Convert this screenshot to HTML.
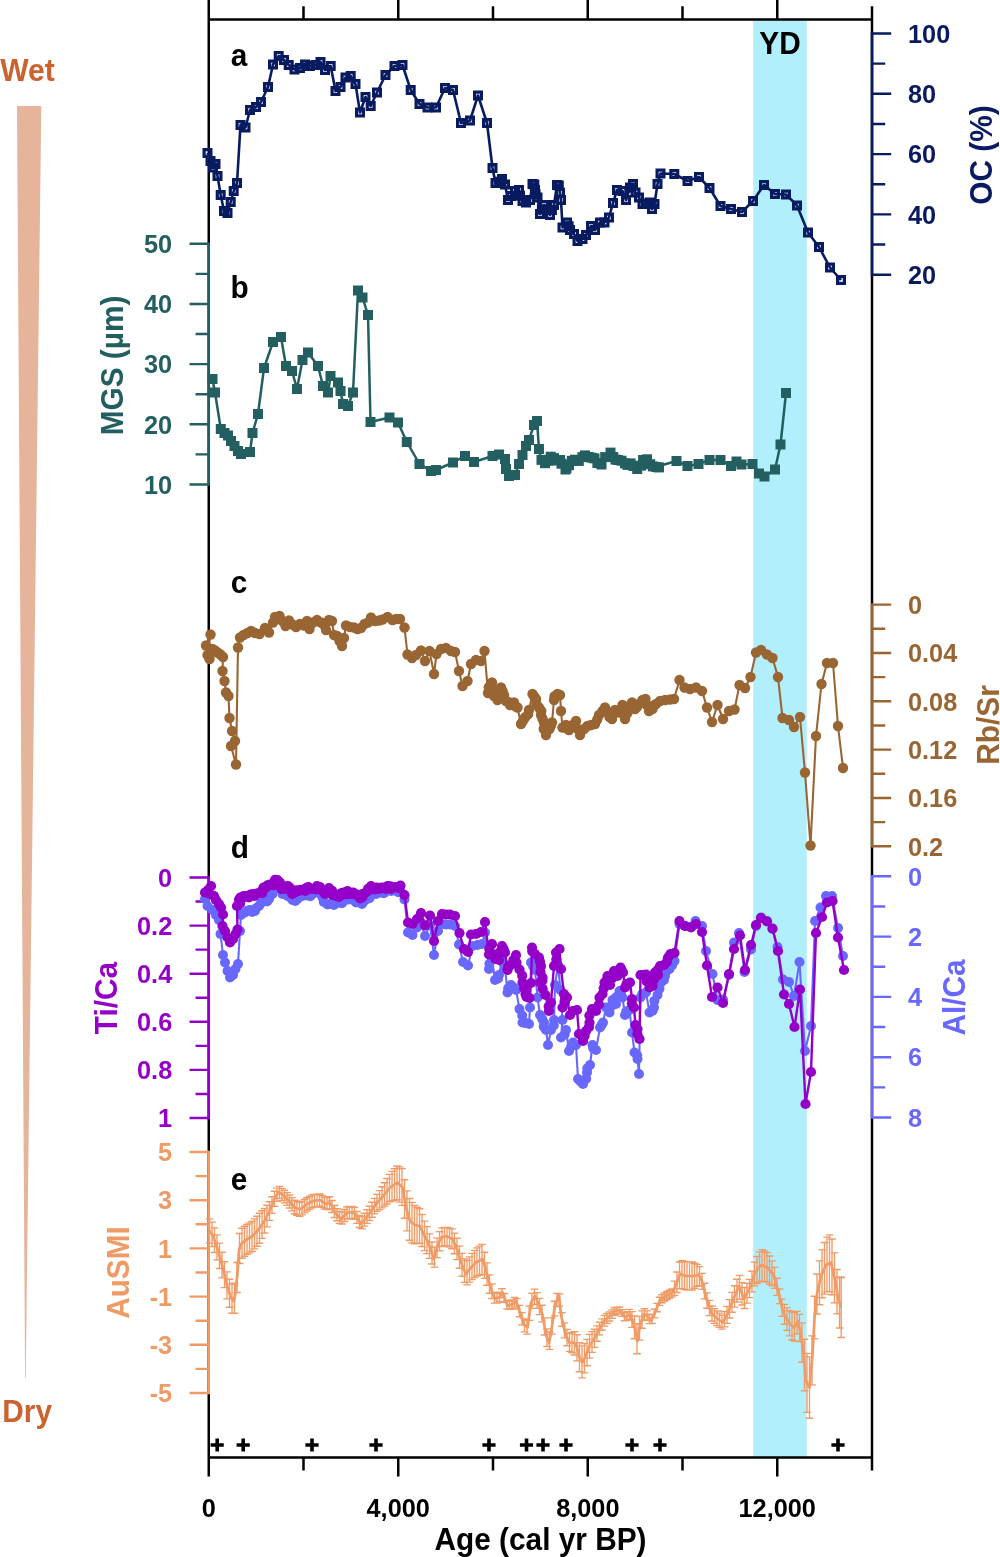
<!DOCTYPE html>
<html lang="en"><head><meta charset="utf-8"><title>Figure</title>
<style>html,body{margin:0;padding:0;background:#fff}body{width:1000px;height:1557px;overflow:hidden}svg{display:block}</style>
</head><body>
<svg width="1000" height="1557" viewBox="0 0 1000 1557" font-family='"Liberation Sans", Arial, Helvetica, sans-serif' font-weight="bold">
<rect x="0" y="0" width="1000" height="1557" fill="#ffffff"/>
<rect x="753.25" y="19.5" width="53.5" height="1438.0" fill="#b2effc"/>
<polygon points="17,106 41.3,106 25.7,1378 25.1,1378" fill="#e6b39b"/>
<text transform="translate(0.2,81.2) scale(1,1.05)" font-size="30.1" fill="#cb632f">Wet</text>
<text transform="translate(2.3,1422.2) scale(1,1.05)" font-size="29.8" fill="#cb632f">Dry</text>
<g stroke="#000" stroke-width="2.5" fill="none">
<path d="M208.75 0V1476.5M872.0 6.2V1470.5M207.5 19.5H873.25M207.5 1457.5H873.25"/>
<path d="M303.50 6.2V19.5M303.50 1457.5V1470.5"/>
<path d="M398.25 0V19.5M398.25 1457.5V1476.5"/>
<path d="M493.00 6.2V19.5M493.00 1457.5V1470.5"/>
<path d="M587.75 0V19.5M587.75 1457.5V1476.5"/>
<path d="M682.50 6.2V19.5M682.50 1457.5V1470.5"/>
<path d="M777.25 0V19.5M777.25 1457.5V1476.5"/>
</g>
<g stroke="#000" stroke-width="3.6"><path d="M210.6 1445H223.8M217.2 1438.4V1451.6"/><path d="M236.6 1445H249.8M243.2 1438.4V1451.6"/><path d="M305.4 1445H318.6M312.0 1438.4V1451.6"/><path d="M369.4 1445H382.6M376.0 1438.4V1451.6"/><path d="M482.4 1445H495.6M489.0 1438.4V1451.6"/><path d="M519.9 1445H533.1M526.5 1438.4V1451.6"/><path d="M536.4 1445H549.6M543.0 1438.4V1451.6"/><path d="M559.4 1445H572.6M566.0 1438.4V1451.6"/><path d="M625.4 1445H638.6M632.0 1438.4V1451.6"/><path d="M653.4 1445H666.6M660.0 1438.4V1451.6"/><path d="M831.4 1445H844.6M838.0 1438.4V1451.6"/></g>
<text transform="translate(208.8,1516.8) scale(1,1.05)" font-size="25.3" fill="#000" text-anchor="middle">0</text>
<text transform="translate(398.2,1516.8) scale(1,1.05)" font-size="25.3" fill="#000" text-anchor="middle">4,000</text>
<text transform="translate(587.8,1516.8) scale(1,1.05)" font-size="25.3" fill="#000" text-anchor="middle">8,000</text>
<text transform="translate(777.2,1516.8) scale(1,1.05)" font-size="25.3" fill="#000" text-anchor="middle">12,000</text>
<text transform="translate(540.5,1550) scale(1,1.05)" font-size="29.8" fill="#000" text-anchor="middle">Age (cal yr BP)</text>
<text transform="translate(230.7,66.4) scale(1,1.05)" font-size="29.8" fill="#000">a</text>
<text transform="translate(230.5,298.2) scale(1,1.05)" font-size="29.8" fill="#000">b</text>
<text transform="translate(230.8,592.5) scale(1,1.05)" font-size="29.8" fill="#000">c</text>
<text transform="translate(230.8,858.2) scale(1,1.05)" font-size="29.8" fill="#000">d</text>
<text transform="translate(230.8,1189.8) scale(1,1.05)" font-size="29.8" fill="#000">e</text>
<text transform="translate(780,53.6) scale(1,1.05)" font-size="29.8" fill="#000" text-anchor="middle">YD</text>
<g stroke="#081b60" stroke-width="2.4" fill="none">
<path d="M872.0 32.30V275.90" stroke-width="2.6"/>
<path d="M872.0 33.50h19.2M872.0 63.65h13.2M872.0 93.80h19.2M872.0 123.95h13.2M872.0 154.10h19.2M872.0 184.25h13.2M872.0 214.40h19.2M872.0 244.55h13.2M872.0 274.70h19.2"/></g>
<g fill="#081b60" font-size="25.3">
<text transform="translate(908,42.7) scale(1,1.05)" font-size="25.3" fill="#081b60">100</text>
<text transform="translate(908,103.0) scale(1,1.05)" font-size="25.3" fill="#081b60">80</text>
<text transform="translate(908,163.3) scale(1,1.05)" font-size="25.3" fill="#081b60">60</text>
<text transform="translate(908,223.6) scale(1,1.05)" font-size="25.3" fill="#081b60">40</text>
<text transform="translate(908,283.9) scale(1,1.05)" font-size="25.3" fill="#081b60">20</text>
</g>
<text transform="translate(992,155) rotate(-90) scale(1,1.05)" font-size="29.8" fill="#081b60" text-anchor="middle">OC (%)</text>
<g stroke="#235f60" stroke-width="2.4" fill="none">
<path d="M208.75 242.55V485.70" stroke-width="2.6"/>
<path d="M208.75 243.75h-19.2M208.75 273.84h-13.2M208.75 303.94h-19.2M208.75 334.03h-13.2M208.75 364.12h-19.2M208.75 394.22h-13.2M208.75 424.31h-19.2M208.75 454.41h-13.2M208.75 484.50h-19.2"/></g>
<g fill="#235f60" font-size="25.3">
<text transform="translate(172.2,252.9) scale(1,1.05)" font-size="25.3" fill="#235f60" text-anchor="end">50</text>
<text transform="translate(172.2,313.1) scale(1,1.05)" font-size="25.3" fill="#235f60" text-anchor="end">40</text>
<text transform="translate(172.2,373.3) scale(1,1.05)" font-size="25.3" fill="#235f60" text-anchor="end">30</text>
<text transform="translate(172.2,433.5) scale(1,1.05)" font-size="25.3" fill="#235f60" text-anchor="end">20</text>
<text transform="translate(172.2,493.7) scale(1,1.05)" font-size="25.3" fill="#235f60" text-anchor="end">10</text>
</g>
<text transform="translate(122.5,365.5) rotate(-90) scale(1,1.05)" font-size="29.8" fill="#235f60" text-anchor="middle">MGS (µm)</text>
<g stroke="#996633" stroke-width="2.4" fill="none">
<path d="M872.0 603.40V847.50" stroke-width="2.6"/>
<path d="M872.0 604.60h19.2M872.0 628.77h13.2M872.0 652.94h19.2M872.0 677.11h13.2M872.0 701.28h19.2M872.0 725.45h13.2M872.0 749.62h19.2M872.0 773.79h13.2M872.0 797.96h19.2M872.0 822.13h13.2M872.0 846.30h19.2"/></g>
<g fill="#996633" font-size="25.3">
<text transform="translate(908,613.8) scale(1,1.05)" font-size="25.3" fill="#996633">0</text>
<text transform="translate(908,662.1) scale(1,1.05)" font-size="25.3" fill="#996633">0.04</text>
<text transform="translate(908,710.5) scale(1,1.05)" font-size="25.3" fill="#996633">0.08</text>
<text transform="translate(908,758.8) scale(1,1.05)" font-size="25.3" fill="#996633">0.12</text>
<text transform="translate(908,807.2) scale(1,1.05)" font-size="25.3" fill="#996633">0.16</text>
<text transform="translate(908,855.5) scale(1,1.05)" font-size="25.3" fill="#996633">0.2</text>
</g>
<text transform="translate(999,725) rotate(-90) scale(1,1.05)" font-size="29.8" fill="#996633" text-anchor="middle">Rb/Sr</text>
<g stroke="#9400c8" stroke-width="2.4" fill="none">
<path d="M208.75 876.30V1119.20" stroke-width="2.6"/>
<path d="M208.75 877.50h-19.2M208.75 901.55h-13.2M208.75 925.60h-19.2M208.75 949.65h-13.2M208.75 973.70h-19.2M208.75 997.75h-13.2M208.75 1021.80h-19.2M208.75 1045.85h-13.2M208.75 1069.90h-19.2M208.75 1093.95h-13.2M208.75 1118.00h-19.2"/></g>
<g fill="#9400c8" font-size="25.3">
<text transform="translate(172.2,886.7) scale(1,1.05)" font-size="25.3" fill="#9400c8" text-anchor="end">0</text>
<text transform="translate(172.2,934.8) scale(1,1.05)" font-size="25.3" fill="#9400c8" text-anchor="end">0.2</text>
<text transform="translate(172.2,982.9) scale(1,1.05)" font-size="25.3" fill="#9400c8" text-anchor="end">0.4</text>
<text transform="translate(172.2,1031.0) scale(1,1.05)" font-size="25.3" fill="#9400c8" text-anchor="end">0.6</text>
<text transform="translate(172.2,1079.1) scale(1,1.05)" font-size="25.3" fill="#9400c8" text-anchor="end">0.8</text>
<text transform="translate(172.2,1127.2) scale(1,1.05)" font-size="25.3" fill="#9400c8" text-anchor="end">1</text>
</g>
<text transform="translate(117,998) rotate(-90) scale(1,1.05)" font-size="29.8" fill="#9400c8" text-anchor="middle">Ti/Ca</text>
<g stroke="#6868ff" stroke-width="2.4" fill="none">
<path d="M872.0 875.10V1118.70" stroke-width="2.6"/>
<path d="M872.0 876.30h19.2M872.0 906.45h13.2M872.0 936.60h19.2M872.0 966.75h13.2M872.0 996.90h19.2M872.0 1027.05h13.2M872.0 1057.20h19.2M872.0 1087.35h13.2M872.0 1117.50h19.2"/></g>
<g fill="#6868ff" font-size="25.3">
<text transform="translate(908,885.5) scale(1,1.05)" font-size="25.3" fill="#6868ff">0</text>
<text transform="translate(908,945.8) scale(1,1.05)" font-size="25.3" fill="#6868ff">2</text>
<text transform="translate(908,1006.1) scale(1,1.05)" font-size="25.3" fill="#6868ff">4</text>
<text transform="translate(908,1066.4) scale(1,1.05)" font-size="25.3" fill="#6868ff">6</text>
<text transform="translate(908,1126.7) scale(1,1.05)" font-size="25.3" fill="#6868ff">8</text>
</g>
<text transform="translate(965,997.5) rotate(-90) scale(1,1.05)" font-size="29.8" fill="#6868ff" text-anchor="middle">Al/Ca</text>
<g stroke="#f09a66" stroke-width="2.4" fill="none">
<path d="M208.75 1150.80V1394.20" stroke-width="2.6"/>
<path d="M208.75 1152.00h-19.2M208.75 1176.10h-13.2M208.75 1200.20h-19.2M208.75 1224.30h-13.2M208.75 1248.40h-19.2M208.75 1272.50h-13.2M208.75 1296.60h-19.2M208.75 1320.70h-13.2M208.75 1344.80h-19.2M208.75 1368.90h-13.2M208.75 1393.00h-19.2"/></g>
<g fill="#f09a66" font-size="25.3">
<text transform="translate(172.2,1161.2) scale(1,1.05)" font-size="25.3" fill="#f09a66" text-anchor="end">5</text>
<text transform="translate(172.2,1209.4) scale(1,1.05)" font-size="25.3" fill="#f09a66" text-anchor="end">3</text>
<text transform="translate(172.2,1257.6) scale(1,1.05)" font-size="25.3" fill="#f09a66" text-anchor="end">1</text>
<text transform="translate(172.2,1305.8) scale(1,1.05)" font-size="25.3" fill="#f09a66" text-anchor="end">-1</text>
<text transform="translate(172.2,1354.0) scale(1,1.05)" font-size="25.3" fill="#f09a66" text-anchor="end">-3</text>
<text transform="translate(172.2,1402.2) scale(1,1.05)" font-size="25.3" fill="#f09a66" text-anchor="end">-5</text>
</g>
<text transform="translate(128.5,1272.5) rotate(-90) scale(1,1.05)" font-size="29.8" fill="#f09a66" text-anchor="middle">AuSMI</text>
<g id="alca"><polyline points="205.0,899.0 207.5,906.0 212.5,910.0 216.0,915.0 219.0,920.0 220.5,934.0 223.0,955.0 225.0,962.5 227.5,971.0 230.0,977.5 233.0,975.0 235.5,969.0 238.0,964.0 240.0,931.0 241.0,915.0 245.0,912.5 250.0,910.0 255.0,911.0 259.0,906.0 264.0,901.0 269.0,899.0 272.5,894.0 277.5,886.0 282.5,894.0 287.5,896.0 292.5,900.0 297.5,899.0 302.5,896.0 307.5,895.5 312.5,894.0 317.5,891.0 322.5,897.5 327.5,904.5 334.0,905.0 339.0,902.5 344.0,901.0 349.0,899.5 354.0,900.0 359.0,902.0 362.0,904.0 366.0,899.5 371.0,895.0 376.0,894.0 381.0,892.5 386.0,891.0 391.0,891.0 396.0,890.5 400.5,891.0 404.5,899.5 408.0,932.5 412.5,935.0 417.0,927.5 421.0,922.5 425.0,936.0 430.0,925.0 434.0,955.0 438.0,931.0 442.0,924.0 446.0,924.5 450.0,924.5 455.0,926.0 459.0,944.5 463.0,962.0 468.0,965.5 472.5,946.0 477.5,945.0 482.0,944.0 485.0,932.5 489.0,969.0 492.0,959.0 495.0,980.0 499.0,975.0 502.0,960.0 505.0,967.5 507.5,992.5 511.0,985.0 516.0,990.0 519.5,1009.0 522.5,1022.5 529.0,1024.0 530.0,1007.5 531.0,962.5 535.0,970.0 537.5,997.5 540.0,1015.0 544.0,1022.5 546.0,1030.0 548.0,1045.0 551.0,1030.0 554.0,1020.0 555.0,985.0 558.0,965.0 560.5,990.0 562.5,1020.0 561.0,1037.5 566.0,1030.0 569.0,1051.0 573.0,1042.5 576.0,1045.0 578.0,1079.0 583.0,1084.0 587.0,1072.5 590.0,1065.0 592.5,1045.0 596.0,1050.0 600.0,1027.5 603.0,1022.5 606.0,1007.5 609.5,1012.5 612.5,1000.0 616.0,1004.0 619.5,991.0 622.5,997.5 625.0,1015.0 629.5,1010.0 632.0,1032.5 634.5,1052.5 637.5,1059.0 639.0,1074.0 640.5,997.5 646.0,992.5 649.5,1012.5 654.0,1007.5 657.5,995.0 661.0,982.5 665.0,976.0 669.5,969.0 674.5,961.0 679.5,924.0 685.0,926.0 691.0,927.0 695.5,921.0 702.0,926.0 706.0,951.0 712.5,974.0 717.5,1000.0 723.0,999.5 729.0,975.0 734.0,942.5 739.0,933.0 744.5,972.0 751.0,949.5 756.0,926.0 761.0,917.5 767.0,921.0 772.5,929.0 777.5,947.0 783.0,979.5 789.0,982.0 794.0,996.0 799.5,962.0 805.0,1051.0 811.0,1026.0 815.0,921.0 820.5,907.5 826.0,896.0 832.0,896.0 838.0,928.0 843.0,956.0" fill="none" stroke="#6868ff" stroke-width="2.1" stroke-linejoin="round"/>
<g fill="#6868ff"><circle cx="205.0" cy="899.0" r="5.0"/><circle cx="207.5" cy="906.0" r="5.0"/><circle cx="212.5" cy="910.0" r="5.0"/><circle cx="216.0" cy="915.0" r="5.0"/><circle cx="219.0" cy="920.0" r="5.0"/><circle cx="220.5" cy="934.0" r="5.0"/><circle cx="223.0" cy="955.0" r="5.0"/><circle cx="225.0" cy="962.5" r="5.0"/><circle cx="227.5" cy="971.0" r="5.0"/><circle cx="230.0" cy="977.5" r="5.0"/><circle cx="233.0" cy="975.0" r="5.0"/><circle cx="235.5" cy="969.0" r="5.0"/><circle cx="238.0" cy="964.0" r="5.0"/><circle cx="240.0" cy="931.0" r="5.0"/><circle cx="241.0" cy="915.0" r="5.0"/><circle cx="242.6" cy="913.0" r="5.0"/><circle cx="245.0" cy="912.5" r="5.0"/><circle cx="247.2" cy="910.7" r="5.0"/><circle cx="250.0" cy="910.0" r="5.0"/><circle cx="252.2" cy="912.0" r="5.0"/><circle cx="255.0" cy="911.0" r="5.0"/><circle cx="256.3" cy="908.0" r="5.0"/><circle cx="259.0" cy="906.0" r="5.0"/><circle cx="261.0" cy="903.0" r="5.0"/><circle cx="264.0" cy="901.0" r="5.0"/><circle cx="267.1" cy="901.4" r="5.0"/><circle cx="269.0" cy="899.0" r="5.0"/><circle cx="270.0" cy="896.0" r="5.0"/><circle cx="272.5" cy="894.0" r="5.0"/><circle cx="277.5" cy="886.0" r="5.0"/><circle cx="282.5" cy="894.0" r="5.0"/><circle cx="285.3" cy="894.2" r="5.0"/><circle cx="287.5" cy="896.0" r="5.0"/><circle cx="290.4" cy="897.5" r="5.0"/><circle cx="292.5" cy="900.0" r="5.0"/><circle cx="295.3" cy="901.0" r="5.0"/><circle cx="297.5" cy="899.0" r="5.0"/><circle cx="299.5" cy="896.7" r="5.0"/><circle cx="302.5" cy="896.0" r="5.0"/><circle cx="304.9" cy="895.2" r="5.0"/><circle cx="307.5" cy="895.5" r="5.0"/><circle cx="310.4" cy="896.2" r="5.0"/><circle cx="312.5" cy="894.0" r="5.0"/><circle cx="314.5" cy="891.7" r="5.0"/><circle cx="317.5" cy="891.0" r="5.0"/><circle cx="320.4" cy="893.9" r="5.0"/><circle cx="322.5" cy="897.5" r="5.0"/><circle cx="323.8" cy="901.9" r="5.0"/><circle cx="327.5" cy="904.5" r="5.0"/><circle cx="330.8" cy="903.8" r="5.0"/><circle cx="334.0" cy="905.0" r="5.0"/><circle cx="336.3" cy="903.3" r="5.0"/><circle cx="339.0" cy="902.5" r="5.0"/><circle cx="341.9" cy="903.2" r="5.0"/><circle cx="344.0" cy="901.0" r="5.0"/><circle cx="346.2" cy="899.3" r="5.0"/><circle cx="349.0" cy="899.5" r="5.0"/><circle cx="351.5" cy="899.3" r="5.0"/><circle cx="354.0" cy="900.0" r="5.0"/><circle cx="356.0" cy="902.4" r="5.0"/><circle cx="359.0" cy="902.0" r="5.0"/><circle cx="361.0" cy="902.2" r="5.0"/><circle cx="362.0" cy="904.0" r="5.0"/><circle cx="363.6" cy="901.4" r="5.0"/><circle cx="366.0" cy="899.5" r="5.0"/><circle cx="369.5" cy="898.3" r="5.0"/><circle cx="371.0" cy="895.0" r="5.0"/><circle cx="373.3" cy="893.5" r="5.0"/><circle cx="376.0" cy="894.0" r="5.0"/><circle cx="378.4" cy="892.8" r="5.0"/><circle cx="381.0" cy="892.5" r="5.0"/><circle cx="383.9" cy="893.2" r="5.0"/><circle cx="386.0" cy="891.0" r="5.0"/><circle cx="388.5" cy="890.0" r="5.0"/><circle cx="391.0" cy="891.0" r="5.0"/><circle cx="393.5" cy="890.3" r="5.0"/><circle cx="396.0" cy="890.5" r="5.0"/><circle cx="398.1" cy="892.2" r="5.0"/><circle cx="400.5" cy="891.0" r="5.0"/><circle cx="404.5" cy="899.5" r="5.0"/><circle cx="408.0" cy="932.5" r="5.0"/><circle cx="412.5" cy="935.0" r="5.0"/><circle cx="417.0" cy="927.5" r="5.0"/><circle cx="421.0" cy="922.5" r="5.0"/><circle cx="425.0" cy="936.0" r="5.0"/><circle cx="430.0" cy="925.0" r="5.0"/><circle cx="434.0" cy="955.0" r="5.0"/><circle cx="438.0" cy="931.0" r="5.0"/><circle cx="442.0" cy="924.0" r="5.0"/><circle cx="446.0" cy="924.5" r="5.0"/><circle cx="450.0" cy="924.5" r="5.0"/><circle cx="455.0" cy="926.0" r="5.0"/><circle cx="459.0" cy="944.5" r="5.0"/><circle cx="463.0" cy="962.0" r="5.0"/><circle cx="468.0" cy="965.5" r="5.0"/><circle cx="472.5" cy="946.0" r="5.0"/><circle cx="477.5" cy="945.0" r="5.0"/><circle cx="482.0" cy="944.0" r="5.0"/><circle cx="485.0" cy="932.5" r="5.0"/><circle cx="489.0" cy="969.0" r="5.0"/><circle cx="489.4" cy="963.7" r="5.0"/><circle cx="492.0" cy="959.0" r="5.0"/><circle cx="495.0" cy="980.0" r="5.0"/><circle cx="498.1" cy="978.4" r="5.0"/><circle cx="499.0" cy="975.0" r="5.0"/><circle cx="502.0" cy="960.0" r="5.0"/><circle cx="503.7" cy="963.7" r="5.0"/><circle cx="505.0" cy="967.5" r="5.0"/><circle cx="507.5" cy="992.5" r="5.0"/><circle cx="508.2" cy="988.2" r="5.0"/><circle cx="511.0" cy="985.0" r="5.0"/><circle cx="513.6" cy="987.4" r="5.0"/><circle cx="516.0" cy="990.0" r="5.0"/><circle cx="519.5" cy="1009.0" r="5.0"/><circle cx="522.2" cy="1015.5" r="5.0"/><circle cx="522.5" cy="1022.5" r="5.0"/><circle cx="525.8" cy="1023.1" r="5.0"/><circle cx="529.0" cy="1024.0" r="5.0"/><circle cx="530.0" cy="1007.5" r="5.0"/><circle cx="531.0" cy="962.5" r="5.0"/><circle cx="533.1" cy="966.2" r="5.0"/><circle cx="535.0" cy="970.0" r="5.0"/><circle cx="537.5" cy="997.5" r="5.0"/><circle cx="540.0" cy="1015.0" r="5.0"/><circle cx="542.1" cy="1018.7" r="5.0"/><circle cx="544.0" cy="1022.5" r="5.0"/><circle cx="543.7" cy="1026.6" r="5.0"/><circle cx="546.0" cy="1030.0" r="5.0"/><circle cx="548.0" cy="1045.0" r="5.0"/><circle cx="551.0" cy="1030.0" r="5.0"/><circle cx="553.8" cy="1025.4" r="5.0"/><circle cx="554.0" cy="1020.0" r="5.0"/><circle cx="555.0" cy="985.0" r="5.0"/><circle cx="558.0" cy="965.0" r="5.0"/><circle cx="560.5" cy="990.0" r="5.0"/><circle cx="562.5" cy="1020.0" r="5.0"/><circle cx="561.0" cy="1037.5" r="5.0"/><circle cx="564.6" cy="1034.5" r="5.0"/><circle cx="566.0" cy="1030.0" r="5.0"/><circle cx="569.0" cy="1051.0" r="5.0"/><circle cx="571.0" cy="1046.7" r="5.0"/><circle cx="573.0" cy="1042.5" r="5.0"/><circle cx="576.0" cy="1045.0" r="5.0"/><circle cx="578.0" cy="1079.0" r="5.0"/><circle cx="580.5" cy="1081.5" r="5.0"/><circle cx="583.0" cy="1084.0" r="5.0"/><circle cx="586.2" cy="1078.7" r="5.0"/><circle cx="587.0" cy="1072.5" r="5.0"/><circle cx="587.3" cy="1068.3" r="5.0"/><circle cx="590.0" cy="1065.0" r="5.0"/><circle cx="592.5" cy="1045.0" r="5.0"/><circle cx="593.2" cy="1048.2" r="5.0"/><circle cx="596.0" cy="1050.0" r="5.0"/><circle cx="600.0" cy="1027.5" r="5.0"/><circle cx="601.6" cy="1025.0" r="5.0"/><circle cx="603.0" cy="1022.5" r="5.0"/><circle cx="606.0" cy="1007.5" r="5.0"/><circle cx="608.8" cy="1009.2" r="5.0"/><circle cx="609.5" cy="1012.5" r="5.0"/><circle cx="611.1" cy="1006.3" r="5.0"/><circle cx="612.5" cy="1000.0" r="5.0"/><circle cx="616.0" cy="1004.0" r="5.0"/><circle cx="616.4" cy="997.1" r="5.0"/><circle cx="619.5" cy="991.0" r="5.0"/><circle cx="620.9" cy="994.3" r="5.0"/><circle cx="622.5" cy="997.5" r="5.0"/><circle cx="625.0" cy="1015.0" r="5.0"/><circle cx="626.2" cy="1011.6" r="5.0"/><circle cx="629.5" cy="1010.0" r="5.0"/><circle cx="632.0" cy="1032.5" r="5.0"/><circle cx="634.5" cy="1052.5" r="5.0"/><circle cx="637.2" cy="1055.2" r="5.0"/><circle cx="637.5" cy="1059.0" r="5.0"/><circle cx="639.0" cy="1074.0" r="5.0"/><circle cx="640.5" cy="997.5" r="5.0"/><circle cx="642.3" cy="994.0" r="5.0"/><circle cx="646.0" cy="992.5" r="5.0"/><circle cx="649.5" cy="1012.5" r="5.0"/><circle cx="652.6" cy="1010.8" r="5.0"/><circle cx="654.0" cy="1007.5" r="5.0"/><circle cx="654.4" cy="1000.9" r="5.0"/><circle cx="657.5" cy="995.0" r="5.0"/><circle cx="659.5" cy="988.8" r="5.0"/><circle cx="661.0" cy="982.5" r="5.0"/><circle cx="664.0" cy="979.9" r="5.0"/><circle cx="665.0" cy="976.0" r="5.0"/><circle cx="666.1" cy="971.7" r="5.0"/><circle cx="669.5" cy="969.0" r="5.0"/><circle cx="672.2" cy="965.1" r="5.0"/><circle cx="674.5" cy="961.0" r="5.0"/><circle cx="679.5" cy="924.0" r="5.0"/><circle cx="685.0" cy="926.0" r="5.0"/><circle cx="691.0" cy="927.0" r="5.0"/><circle cx="695.5" cy="921.0" r="5.0"/><circle cx="702.0" cy="926.0" r="5.0"/><circle cx="706.0" cy="951.0" r="5.0"/><circle cx="712.5" cy="974.0" r="5.0"/><circle cx="717.5" cy="1000.0" r="5.0"/><circle cx="723.0" cy="999.5" r="5.0"/><circle cx="729.0" cy="975.0" r="5.0"/><circle cx="734.0" cy="942.5" r="5.0"/><circle cx="739.0" cy="933.0" r="5.0"/><circle cx="744.5" cy="972.0" r="5.0"/><circle cx="751.0" cy="949.5" r="5.0"/><circle cx="756.0" cy="926.0" r="5.0"/><circle cx="761.0" cy="917.5" r="5.0"/><circle cx="767.0" cy="921.0" r="5.0"/><circle cx="772.5" cy="929.0" r="5.0"/><circle cx="777.5" cy="947.0" r="5.0"/><circle cx="783.0" cy="979.5" r="5.0"/><circle cx="789.0" cy="982.0" r="5.0"/><circle cx="794.0" cy="996.0" r="5.0"/><circle cx="799.5" cy="962.0" r="5.0"/><circle cx="805.0" cy="1051.0" r="5.0"/><circle cx="811.0" cy="1026.0" r="5.0"/><circle cx="815.0" cy="921.0" r="5.0"/><circle cx="820.5" cy="907.5" r="5.0"/><circle cx="826.0" cy="896.0" r="5.0"/><circle cx="832.0" cy="896.0" r="5.0"/><circle cx="838.0" cy="928.0" r="5.0"/><circle cx="843.0" cy="956.0" r="5.0"/></g></g>
<g id="tica"><polyline points="205.0,892.5 208.0,890.0 211.0,886.0 210.0,894.0 214.0,896.0 216.0,900.0 219.0,904.0 221.0,907.5 223.0,914.5 222.5,926.0 225.0,931.0 227.5,937.5 230.0,942.5 233.0,939.0 235.5,934.0 237.5,929.5 237.0,906.0 239.0,899.5 242.5,898.0 246.0,896.0 250.5,894.5 254.5,896.0 259.0,893.0 262.5,890.0 266.0,887.5 270.0,884.5 274.0,882.0 277.5,880.0 281.0,886.0 284.5,889.0 288.0,886.0 291.0,891.0 295.0,892.5 299.0,891.0 302.5,890.0 306.0,888.0 310.0,889.0 312.5,889.0 317.0,886.0 321.0,890.0 325.0,894.0 329.0,888.0 332.5,895.0 336.0,896.0 340.0,894.0 344.0,894.5 347.5,891.0 351.0,894.0 355.0,894.5 359.0,896.0 362.5,897.0 366.0,892.5 371.0,886.0 375.0,889.5 379.0,889.0 382.5,887.5 387.5,886.0 391.0,889.0 396.0,887.0 400.5,885.5 404.5,895.0 408.0,922.5 412.5,924.0 417.0,919.0 421.0,913.0 425.0,925.5 430.0,915.5 434.0,941.0 438.0,921.0 442.0,914.0 446.0,914.5 450.0,914.5 455.0,916.0 459.5,933.0 464.0,949.0 468.0,952.0 471.0,934.5 476.0,934.0 481.0,932.0 485.0,922.0 489.0,954.5 492.0,944.0 495.5,959.0 499.0,960.0 502.0,946.0 505.0,952.5 507.5,970.0 511.0,965.0 516.0,955.0 519.5,969.5 522.5,982.5 525.5,994.0 529.5,998.0 531.0,983.0 532.0,947.5 535.0,954.0 539.0,957.5 541.0,966.0 542.5,977.5 540.0,982.5 545.5,995.0 549.0,1011.0 551.0,1002.5 554.0,966.0 556.0,952.5 559.5,949.0 561.0,969.0 564.0,994.0 562.5,1007.5 567.0,997.5 570.0,1015.0 573.0,1011.0 577.0,1010.0 579.0,1034.0 583.0,1041.0 586.0,1031.0 589.5,1022.5 592.0,1009.0 596.0,1011.0 599.5,997.5 602.5,994.0 604.5,982.5 607.5,976.0 610.0,985.0 614.0,971.0 617.5,976.0 620.5,967.5 623.0,972.5 625.0,987.5 630.0,982.5 632.0,999.0 634.0,1007.5 635.5,1025.0 637.5,1029.0 639.5,1039.0 640.5,975.0 646.0,974.5 649.5,987.5 652.5,986.0 655.0,972.5 658.0,975.0 660.0,966.0 664.0,965.0 668.0,957.5 674.5,953.0 679.5,921.0 685.0,926.0 691.0,927.5 696.0,924.0 702.0,932.0 707.0,965.5 712.0,997.0 717.5,987.5 723.0,1003.0 729.0,974.0 734.0,949.0 740.0,935.5 745.0,970.0 751.0,945.0 756.0,925.0 761.0,918.0 767.0,921.5 772.5,928.5 778.0,951.0 784.0,994.5 789.0,1004.0 794.5,1027.0 800.0,989.5 805.5,1104.0 811.0,1072.0 816.0,933.0 822.0,917.0 827.0,902.5 832.5,901.0 838.0,937.5 844.0,970.0" fill="none" stroke="#9400c8" stroke-width="2.4" stroke-linejoin="round"/>
<g fill="#9400c8"><circle cx="205.0" cy="892.5" r="5.1"/><circle cx="208.0" cy="890.0" r="5.1"/><circle cx="211.0" cy="886.0" r="5.1"/><circle cx="210.0" cy="894.0" r="5.1"/><circle cx="214.0" cy="896.0" r="5.1"/><circle cx="216.0" cy="900.0" r="5.1"/><circle cx="219.0" cy="904.0" r="5.1"/><circle cx="221.0" cy="907.5" r="5.1"/><circle cx="223.0" cy="914.5" r="5.1"/><circle cx="222.5" cy="926.0" r="5.1"/><circle cx="225.0" cy="931.0" r="5.1"/><circle cx="227.5" cy="937.5" r="5.1"/><circle cx="230.0" cy="942.5" r="5.1"/><circle cx="233.0" cy="939.0" r="5.1"/><circle cx="235.5" cy="934.0" r="5.1"/><circle cx="237.5" cy="929.5" r="5.1"/><circle cx="237.0" cy="906.0" r="5.1"/><circle cx="240.1" cy="903.4" r="5.1"/><circle cx="239.0" cy="899.5" r="5.1"/><circle cx="240.3" cy="897.6" r="5.1"/><circle cx="242.5" cy="898.0" r="5.1"/><circle cx="243.8" cy="896.2" r="5.1"/><circle cx="246.0" cy="896.0" r="5.1"/><circle cx="248.9" cy="897.3" r="5.1"/><circle cx="250.5" cy="894.5" r="5.1"/><circle cx="252.9" cy="894.1" r="5.1"/><circle cx="254.5" cy="896.0" r="5.1"/><circle cx="256.2" cy="893.7" r="5.1"/><circle cx="259.0" cy="893.0" r="5.1"/><circle cx="262.2" cy="893.2" r="5.1"/><circle cx="262.5" cy="890.0" r="5.1"/><circle cx="263.5" cy="887.7" r="5.1"/><circle cx="266.0" cy="887.5" r="5.1"/><circle cx="267.5" cy="885.3" r="5.1"/><circle cx="270.0" cy="884.5" r="5.1"/><circle cx="273.2" cy="885.1" r="5.1"/><circle cx="274.0" cy="882.0" r="5.1"/><circle cx="275.1" cy="879.8" r="5.1"/><circle cx="277.5" cy="880.0" r="5.1"/><circle cx="280.0" cy="882.6" r="5.1"/><circle cx="281.0" cy="886.0" r="5.1"/><circle cx="281.3" cy="889.2" r="5.1"/><circle cx="284.5" cy="889.0" r="5.1"/><circle cx="285.4" cy="886.5" r="5.1"/><circle cx="288.0" cy="886.0" r="5.1"/><circle cx="290.2" cy="888.1" r="5.1"/><circle cx="291.0" cy="891.0" r="5.1"/><circle cx="292.2" cy="893.8" r="5.1"/><circle cx="295.0" cy="892.5" r="5.1"/><circle cx="296.5" cy="890.4" r="5.1"/><circle cx="299.0" cy="891.0" r="5.1"/><circle cx="300.5" cy="889.8" r="5.1"/><circle cx="302.5" cy="890.0" r="5.1"/><circle cx="305.3" cy="890.9" r="5.1"/><circle cx="306.0" cy="888.0" r="5.1"/><circle cx="308.3" cy="887.1" r="5.1"/><circle cx="310.0" cy="889.0" r="5.1"/><circle cx="312.5" cy="889.0" r="5.1"/><circle cx="315.9" cy="889.3" r="5.1"/><circle cx="317.0" cy="886.0" r="5.1"/><circle cx="320.0" cy="887.0" r="5.1"/><circle cx="321.0" cy="890.0" r="5.1"/><circle cx="323.5" cy="891.5" r="5.1"/><circle cx="325.0" cy="894.0" r="5.1"/><circle cx="328.8" cy="892.2" r="5.1"/><circle cx="329.0" cy="888.0" r="5.1"/><circle cx="332.1" cy="890.8" r="5.1"/><circle cx="332.5" cy="895.0" r="5.1"/><circle cx="334.4" cy="894.9" r="5.1"/><circle cx="336.0" cy="896.0" r="5.1"/><circle cx="339.0" cy="896.9" r="5.1"/><circle cx="340.0" cy="894.0" r="5.1"/><circle cx="342.2" cy="892.8" r="5.1"/><circle cx="344.0" cy="894.5" r="5.1"/><circle cx="345.3" cy="892.3" r="5.1"/><circle cx="347.5" cy="891.0" r="5.1"/><circle cx="347.9" cy="894.1" r="5.1"/><circle cx="351.0" cy="894.0" r="5.1"/><circle cx="353.2" cy="892.7" r="5.1"/><circle cx="355.0" cy="894.5" r="5.1"/><circle cx="357.2" cy="894.7" r="5.1"/><circle cx="359.0" cy="896.0" r="5.1"/><circle cx="360.2" cy="898.5" r="5.1"/><circle cx="362.5" cy="897.0" r="5.1"/><circle cx="363.0" cy="893.8" r="5.1"/><circle cx="366.0" cy="892.5" r="5.1"/><circle cx="368.1" cy="888.9" r="5.1"/><circle cx="371.0" cy="886.0" r="5.1"/><circle cx="371.6" cy="889.3" r="5.1"/><circle cx="375.0" cy="889.5" r="5.1"/><circle cx="376.8" cy="887.7" r="5.1"/><circle cx="379.0" cy="889.0" r="5.1"/><circle cx="380.5" cy="887.8" r="5.1"/><circle cx="382.5" cy="887.5" r="5.1"/><circle cx="385.6" cy="888.8" r="5.1"/><circle cx="387.5" cy="886.0" r="5.1"/><circle cx="390.3" cy="886.3" r="5.1"/><circle cx="391.0" cy="889.0" r="5.1"/><circle cx="393.3" cy="887.6" r="5.1"/><circle cx="396.0" cy="887.0" r="5.1"/><circle cx="398.9" cy="888.2" r="5.1"/><circle cx="400.5" cy="885.5" r="5.1"/><circle cx="404.5" cy="895.0" r="5.1"/><circle cx="408.0" cy="922.5" r="5.1"/><circle cx="412.5" cy="924.0" r="5.1"/><circle cx="417.0" cy="919.0" r="5.1"/><circle cx="421.0" cy="913.0" r="5.1"/><circle cx="425.0" cy="925.5" r="5.1"/><circle cx="430.0" cy="915.5" r="5.1"/><circle cx="434.0" cy="941.0" r="5.1"/><circle cx="438.0" cy="921.0" r="5.1"/><circle cx="442.0" cy="914.0" r="5.1"/><circle cx="446.0" cy="914.5" r="5.1"/><circle cx="450.0" cy="914.5" r="5.1"/><circle cx="455.0" cy="916.0" r="5.1"/><circle cx="459.5" cy="933.0" r="5.1"/><circle cx="464.0" cy="949.0" r="5.1"/><circle cx="468.0" cy="952.0" r="5.1"/><circle cx="471.0" cy="934.5" r="5.1"/><circle cx="476.0" cy="934.0" r="5.1"/><circle cx="481.0" cy="932.0" r="5.1"/><circle cx="485.0" cy="922.0" r="5.1"/><circle cx="489.0" cy="954.5" r="5.1"/><circle cx="489.3" cy="948.9" r="5.1"/><circle cx="492.0" cy="944.0" r="5.1"/><circle cx="495.5" cy="959.0" r="5.1"/><circle cx="499.0" cy="960.0" r="5.1"/><circle cx="499.3" cy="952.7" r="5.1"/><circle cx="502.0" cy="946.0" r="5.1"/><circle cx="503.6" cy="949.2" r="5.1"/><circle cx="505.0" cy="952.5" r="5.1"/><circle cx="507.5" cy="970.0" r="5.1"/><circle cx="508.2" cy="966.8" r="5.1"/><circle cx="511.0" cy="965.0" r="5.1"/><circle cx="513.4" cy="960.0" r="5.1"/><circle cx="516.0" cy="955.0" r="5.1"/><circle cx="516.5" cy="962.6" r="5.1"/><circle cx="519.5" cy="969.5" r="5.1"/><circle cx="522.2" cy="975.7" r="5.1"/><circle cx="522.5" cy="982.5" r="5.1"/><circle cx="524.1" cy="988.2" r="5.1"/><circle cx="525.5" cy="994.0" r="5.1"/><circle cx="526.6" cy="996.9" r="5.1"/><circle cx="529.5" cy="998.0" r="5.1"/><circle cx="531.0" cy="983.0" r="5.1"/><circle cx="532.0" cy="947.5" r="5.1"/><circle cx="532.3" cy="951.3" r="5.1"/><circle cx="535.0" cy="954.0" r="5.1"/><circle cx="539.0" cy="957.5" r="5.1"/><circle cx="540.0" cy="961.7" r="5.1"/><circle cx="541.0" cy="966.0" r="5.1"/><circle cx="540.5" cy="971.9" r="5.1"/><circle cx="542.5" cy="977.5" r="5.1"/><circle cx="542.4" cy="980.6" r="5.1"/><circle cx="540.0" cy="982.5" r="5.1"/><circle cx="542.7" cy="988.8" r="5.1"/><circle cx="545.5" cy="995.0" r="5.1"/><circle cx="549.0" cy="1011.0" r="5.1"/><circle cx="548.7" cy="1006.4" r="5.1"/><circle cx="551.0" cy="1002.5" r="5.1"/><circle cx="554.0" cy="966.0" r="5.1"/><circle cx="556.3" cy="959.4" r="5.1"/><circle cx="556.0" cy="952.5" r="5.1"/><circle cx="559.5" cy="949.0" r="5.1"/><circle cx="561.0" cy="969.0" r="5.1"/><circle cx="564.0" cy="994.0" r="5.1"/><circle cx="564.6" cy="1000.9" r="5.1"/><circle cx="562.5" cy="1007.5" r="5.1"/><circle cx="564.8" cy="1002.5" r="5.1"/><circle cx="567.0" cy="997.5" r="5.1"/><circle cx="570.0" cy="1015.0" r="5.1"/><circle cx="573.0" cy="1011.0" r="5.1"/><circle cx="577.0" cy="1010.0" r="5.1"/><circle cx="579.0" cy="1034.0" r="5.1"/><circle cx="582.2" cy="1036.8" r="5.1"/><circle cx="583.0" cy="1041.0" r="5.1"/><circle cx="584.6" cy="1036.0" r="5.1"/><circle cx="586.0" cy="1031.0" r="5.1"/><circle cx="588.9" cy="1027.2" r="5.1"/><circle cx="589.5" cy="1022.5" r="5.1"/><circle cx="589.4" cy="1015.5" r="5.1"/><circle cx="592.0" cy="1009.0" r="5.1"/><circle cx="596.0" cy="1011.0" r="5.1"/><circle cx="598.9" cy="1004.6" r="5.1"/><circle cx="599.5" cy="997.5" r="5.1"/><circle cx="602.5" cy="994.0" r="5.1"/><circle cx="603.7" cy="988.3" r="5.1"/><circle cx="604.5" cy="982.5" r="5.1"/><circle cx="607.1" cy="979.7" r="5.1"/><circle cx="607.5" cy="976.0" r="5.1"/><circle cx="610.1" cy="980.1" r="5.1"/><circle cx="610.0" cy="985.0" r="5.1"/><circle cx="612.2" cy="978.1" r="5.1"/><circle cx="614.0" cy="971.0" r="5.1"/><circle cx="614.8" cy="974.2" r="5.1"/><circle cx="617.5" cy="976.0" r="5.1"/><circle cx="617.7" cy="971.3" r="5.1"/><circle cx="620.5" cy="967.5" r="5.1"/><circle cx="621.5" cy="970.1" r="5.1"/><circle cx="623.0" cy="972.5" r="5.1"/><circle cx="625.0" cy="987.5" r="5.1"/><circle cx="626.5" cy="984.0" r="5.1"/><circle cx="630.0" cy="982.5" r="5.1"/><circle cx="632.0" cy="999.0" r="5.1"/><circle cx="631.9" cy="1003.5" r="5.1"/><circle cx="634.0" cy="1007.5" r="5.1"/><circle cx="635.5" cy="1025.0" r="5.1"/><circle cx="637.5" cy="1029.0" r="5.1"/><circle cx="637.4" cy="1034.2" r="5.1"/><circle cx="639.5" cy="1039.0" r="5.1"/><circle cx="640.5" cy="975.0" r="5.1"/><circle cx="643.3" cy="975.1" r="5.1"/><circle cx="646.0" cy="974.5" r="5.1"/><circle cx="646.7" cy="981.3" r="5.1"/><circle cx="649.5" cy="987.5" r="5.1"/><circle cx="652.5" cy="986.0" r="5.1"/><circle cx="654.1" cy="979.3" r="5.1"/><circle cx="655.0" cy="972.5" r="5.1"/><circle cx="658.0" cy="975.0" r="5.1"/><circle cx="657.6" cy="970.2" r="5.1"/><circle cx="660.0" cy="966.0" r="5.1"/><circle cx="664.0" cy="965.0" r="5.1"/><circle cx="666.9" cy="961.8" r="5.1"/><circle cx="668.0" cy="957.5" r="5.1"/><circle cx="670.4" cy="954.1" r="5.1"/><circle cx="674.5" cy="953.0" r="5.1"/><circle cx="679.5" cy="921.0" r="5.1"/><circle cx="685.0" cy="926.0" r="5.1"/><circle cx="691.0" cy="927.5" r="5.1"/><circle cx="696.0" cy="924.0" r="5.1"/><circle cx="702.0" cy="932.0" r="5.1"/><circle cx="707.0" cy="965.5" r="5.1"/><circle cx="712.0" cy="997.0" r="5.1"/><circle cx="717.5" cy="987.5" r="5.1"/><circle cx="723.0" cy="1003.0" r="5.1"/><circle cx="729.0" cy="974.0" r="5.1"/><circle cx="734.0" cy="949.0" r="5.1"/><circle cx="740.0" cy="935.5" r="5.1"/><circle cx="745.0" cy="970.0" r="5.1"/><circle cx="751.0" cy="945.0" r="5.1"/><circle cx="756.0" cy="925.0" r="5.1"/><circle cx="761.0" cy="918.0" r="5.1"/><circle cx="767.0" cy="921.5" r="5.1"/><circle cx="772.5" cy="928.5" r="5.1"/><circle cx="778.0" cy="951.0" r="5.1"/><circle cx="784.0" cy="994.5" r="5.1"/><circle cx="789.0" cy="1004.0" r="5.1"/><circle cx="794.5" cy="1027.0" r="5.1"/><circle cx="800.0" cy="989.5" r="5.1"/><circle cx="805.5" cy="1104.0" r="5.1"/><circle cx="811.0" cy="1072.0" r="5.1"/><circle cx="816.0" cy="933.0" r="5.1"/><circle cx="822.0" cy="917.0" r="5.1"/><circle cx="827.0" cy="902.5" r="5.1"/><circle cx="832.5" cy="901.0" r="5.1"/><circle cx="838.0" cy="937.5" r="5.1"/><circle cx="844.0" cy="970.0" r="5.1"/></g></g>
<g id="rbsr"><polyline points="206.0,645.5 210.5,634.5 207.5,655.0 209.5,659.0 212.5,649.0 215.0,650.5 217.5,652.5 220.5,654.5 223.0,657.0 222.5,671.0 224.5,681.0 226.0,692.5 228.5,696.0 229.5,718.0 232.0,731.0 235.0,741.0 231.0,746.0 236.0,764.5 238.0,647.5 240.0,637.5 243.5,635.0 247.5,633.0 251.0,631.0 255.0,633.0 259.5,634.0 265.0,628.0 269.0,632.5 273.0,622.5 275.0,617.0 279.5,616.0 282.5,621.0 285.5,626.0 289.0,620.5 292.5,624.5 296.0,627.0 300.0,624.0 304.0,625.5 307.0,621.0 309.5,629.0 313.0,622.5 317.0,620.0 321.0,622.5 324.5,625.5 326.0,630.0 329.0,620.0 332.0,621.0 334.0,635.0 337.0,636.0 339.5,641.0 342.0,646.0 344.0,638.0 346.0,625.5 350.0,627.0 354.0,627.5 357.5,629.0 361.0,628.0 364.5,624.0 368.0,622.5 371.0,617.5 375.0,621.0 379.0,620.5 382.5,619.5 387.5,617.0 392.5,620.0 396.0,619.0 400.0,619.0 404.5,627.5 407.5,654.5 412.0,658.0 416.0,655.0 421.0,650.5 425.0,661.0 429.5,651.0 434.0,674.0 436.5,654.0 441.0,649.0 446.0,648.0 451.0,651.0 455.0,652.0 459.0,671.0 462.5,686.0 467.5,681.0 471.0,664.0 476.0,660.0 481.0,661.0 484.5,651.0 488.0,693.0 492.0,682.5 494.0,696.0 497.5,700.0 501.0,687.5 504.0,695.0 506.0,701.0 510.0,705.0 514.0,702.5 517.5,707.5 521.0,724.0 525.0,717.5 529.0,710.0 532.5,694.0 536.0,699.0 539.0,707.5 541.0,715.0 544.0,722.5 546.0,735.0 549.5,729.0 552.0,722.5 554.0,700.0 557.5,694.0 560.0,695.0 561.0,711.0 562.5,727.5 566.0,725.0 569.0,730.0 572.5,725.0 576.0,721.0 580.0,735.0 584.0,729.0 587.5,726.0 591.0,725.0 595.0,724.0 599.0,715.0 602.5,711.0 605.0,707.5 609.0,714.0 612.0,719.0 615.0,710.0 619.0,712.5 622.5,705.0 625.0,719.0 629.0,707.5 632.0,702.5 635.0,709.0 639.0,704.0 642.5,700.0 645.5,699.0 649.0,711.0 652.5,709.0 656.0,704.0 660.0,701.0 665.0,700.0 670.0,699.5 674.0,699.0 679.5,680.0 684.5,687.5 690.0,689.0 696.0,687.5 702.0,691.0 707.0,707.5 712.0,722.0 717.5,705.0 723.0,719.0 729.0,711.0 734.5,709.5 739.5,685.0 745.0,688.0 750.5,677.0 756.0,652.5 761.0,650.0 767.0,654.5 772.5,658.0 778.0,677.0 782.5,718.0 789.0,720.0 794.0,727.0 800.0,717.0 805.0,772.5 810.5,845.5 816.0,736.0 821.5,684.0 827.0,663.0 833.0,663.0 838.0,726.0 843.0,768.0" fill="none" stroke="#996633" stroke-width="2.1" stroke-linejoin="round"/>
<g fill="#996633"><circle cx="206.0" cy="645.5" r="5.2"/><circle cx="210.5" cy="634.5" r="5.2"/><circle cx="207.5" cy="655.0" r="5.2"/><circle cx="209.5" cy="659.0" r="5.2"/><circle cx="212.5" cy="649.0" r="5.2"/><circle cx="215.0" cy="650.5" r="5.2"/><circle cx="217.5" cy="652.5" r="5.2"/><circle cx="220.5" cy="654.5" r="5.2"/><circle cx="223.0" cy="657.0" r="5.2"/><circle cx="222.5" cy="671.0" r="5.2"/><circle cx="224.5" cy="681.0" r="5.2"/><circle cx="226.0" cy="692.5" r="5.2"/><circle cx="228.5" cy="696.0" r="5.2"/><circle cx="229.5" cy="718.0" r="5.2"/><circle cx="232.0" cy="731.0" r="5.2"/><circle cx="235.0" cy="741.0" r="5.2"/><circle cx="231.0" cy="746.0" r="5.2"/><circle cx="236.0" cy="764.5" r="5.2"/><circle cx="238.0" cy="647.5" r="5.2"/><circle cx="240.0" cy="637.5" r="5.2"/><circle cx="243.5" cy="635.0" r="5.2"/><circle cx="247.5" cy="633.0" r="5.2"/><circle cx="251.0" cy="631.0" r="5.2"/><circle cx="255.0" cy="633.0" r="5.2"/><circle cx="259.5" cy="634.0" r="5.2"/><circle cx="265.0" cy="628.0" r="5.2"/><circle cx="269.0" cy="632.5" r="5.2"/><circle cx="273.0" cy="622.5" r="5.2"/><circle cx="275.0" cy="617.0" r="5.2"/><circle cx="279.5" cy="616.0" r="5.2"/><circle cx="282.5" cy="621.0" r="5.2"/><circle cx="285.5" cy="626.0" r="5.2"/><circle cx="289.0" cy="620.5" r="5.2"/><circle cx="292.5" cy="624.5" r="5.2"/><circle cx="296.0" cy="627.0" r="5.2"/><circle cx="300.0" cy="624.0" r="5.2"/><circle cx="304.0" cy="625.5" r="5.2"/><circle cx="307.0" cy="621.0" r="5.2"/><circle cx="309.5" cy="629.0" r="5.2"/><circle cx="313.0" cy="622.5" r="5.2"/><circle cx="317.0" cy="620.0" r="5.2"/><circle cx="321.0" cy="622.5" r="5.2"/><circle cx="324.5" cy="625.5" r="5.2"/><circle cx="326.0" cy="630.0" r="5.2"/><circle cx="329.0" cy="620.0" r="5.2"/><circle cx="332.0" cy="621.0" r="5.2"/><circle cx="334.0" cy="635.0" r="5.2"/><circle cx="337.0" cy="636.0" r="5.2"/><circle cx="339.5" cy="641.0" r="5.2"/><circle cx="342.0" cy="646.0" r="5.2"/><circle cx="344.0" cy="638.0" r="5.2"/><circle cx="346.0" cy="625.5" r="5.2"/><circle cx="350.0" cy="627.0" r="5.2"/><circle cx="354.0" cy="627.5" r="5.2"/><circle cx="357.5" cy="629.0" r="5.2"/><circle cx="361.0" cy="628.0" r="5.2"/><circle cx="364.5" cy="624.0" r="5.2"/><circle cx="368.0" cy="622.5" r="5.2"/><circle cx="371.0" cy="617.5" r="5.2"/><circle cx="375.0" cy="621.0" r="5.2"/><circle cx="379.0" cy="620.5" r="5.2"/><circle cx="382.5" cy="619.5" r="5.2"/><circle cx="387.5" cy="617.0" r="5.2"/><circle cx="392.5" cy="620.0" r="5.2"/><circle cx="396.0" cy="619.0" r="5.2"/><circle cx="400.0" cy="619.0" r="5.2"/><circle cx="404.5" cy="627.5" r="5.2"/><circle cx="407.5" cy="654.5" r="5.2"/><circle cx="412.0" cy="658.0" r="5.2"/><circle cx="416.0" cy="655.0" r="5.2"/><circle cx="421.0" cy="650.5" r="5.2"/><circle cx="425.0" cy="661.0" r="5.2"/><circle cx="429.5" cy="651.0" r="5.2"/><circle cx="434.0" cy="674.0" r="5.2"/><circle cx="436.5" cy="654.0" r="5.2"/><circle cx="441.0" cy="649.0" r="5.2"/><circle cx="446.0" cy="648.0" r="5.2"/><circle cx="451.0" cy="651.0" r="5.2"/><circle cx="455.0" cy="652.0" r="5.2"/><circle cx="459.0" cy="671.0" r="5.2"/><circle cx="462.5" cy="686.0" r="5.2"/><circle cx="467.5" cy="681.0" r="5.2"/><circle cx="471.0" cy="664.0" r="5.2"/><circle cx="476.0" cy="660.0" r="5.2"/><circle cx="481.0" cy="661.0" r="5.2"/><circle cx="484.5" cy="651.0" r="5.2"/><circle cx="488.0" cy="693.0" r="5.2"/><circle cx="488.8" cy="687.3" r="5.2"/><circle cx="492.0" cy="682.5" r="5.2"/><circle cx="493.1" cy="689.2" r="5.2"/><circle cx="494.0" cy="696.0" r="5.2"/><circle cx="497.5" cy="700.0" r="5.2"/><circle cx="498.0" cy="693.4" r="5.2"/><circle cx="501.0" cy="687.5" r="5.2"/><circle cx="502.6" cy="691.2" r="5.2"/><circle cx="504.0" cy="695.0" r="5.2"/><circle cx="503.7" cy="698.4" r="5.2"/><circle cx="506.0" cy="701.0" r="5.2"/><circle cx="508.9" cy="702.1" r="5.2"/><circle cx="510.0" cy="705.0" r="5.2"/><circle cx="514.0" cy="702.5" r="5.2"/><circle cx="514.7" cy="705.8" r="5.2"/><circle cx="517.5" cy="707.5" r="5.2"/><circle cx="521.0" cy="724.0" r="5.2"/><circle cx="523.0" cy="720.7" r="5.2"/><circle cx="525.0" cy="717.5" r="5.2"/><circle cx="528.1" cy="714.4" r="5.2"/><circle cx="529.0" cy="710.0" r="5.2"/><circle cx="532.5" cy="694.0" r="5.2"/><circle cx="534.2" cy="696.5" r="5.2"/><circle cx="536.0" cy="699.0" r="5.2"/><circle cx="536.3" cy="703.7" r="5.2"/><circle cx="539.0" cy="707.5" r="5.2"/><circle cx="541.3" cy="710.9" r="5.2"/><circle cx="541.0" cy="715.0" r="5.2"/><circle cx="542.5" cy="718.8" r="5.2"/><circle cx="544.0" cy="722.5" r="5.2"/><circle cx="543.7" cy="729.0" r="5.2"/><circle cx="546.0" cy="735.0" r="5.2"/><circle cx="546.6" cy="731.3" r="5.2"/><circle cx="549.5" cy="729.0" r="5.2"/><circle cx="550.8" cy="725.8" r="5.2"/><circle cx="552.0" cy="722.5" r="5.2"/><circle cx="554.0" cy="700.0" r="5.2"/><circle cx="554.6" cy="696.3" r="5.2"/><circle cx="557.5" cy="694.0" r="5.2"/><circle cx="560.0" cy="695.0" r="5.2"/><circle cx="561.0" cy="711.0" r="5.2"/><circle cx="562.5" cy="727.5" r="5.2"/><circle cx="566.0" cy="725.0" r="5.2"/><circle cx="566.4" cy="728.1" r="5.2"/><circle cx="569.0" cy="730.0" r="5.2"/><circle cx="569.6" cy="726.7" r="5.2"/><circle cx="572.5" cy="725.0" r="5.2"/><circle cx="576.0" cy="721.0" r="5.2"/><circle cx="576.8" cy="728.3" r="5.2"/><circle cx="580.0" cy="735.0" r="5.2"/><circle cx="580.9" cy="731.2" r="5.2"/><circle cx="584.0" cy="729.0" r="5.2"/><circle cx="587.5" cy="726.0" r="5.2"/><circle cx="591.0" cy="725.0" r="5.2"/><circle cx="595.0" cy="724.0" r="5.2"/><circle cx="597.2" cy="719.6" r="5.2"/><circle cx="599.0" cy="715.0" r="5.2"/><circle cx="602.5" cy="711.0" r="5.2"/><circle cx="605.0" cy="707.5" r="5.2"/><circle cx="606.8" cy="710.9" r="5.2"/><circle cx="609.0" cy="714.0" r="5.2"/><circle cx="609.5" cy="717.1" r="5.2"/><circle cx="612.0" cy="719.0" r="5.2"/><circle cx="612.2" cy="714.1" r="5.2"/><circle cx="615.0" cy="710.0" r="5.2"/><circle cx="619.0" cy="712.5" r="5.2"/><circle cx="621.8" cy="709.2" r="5.2"/><circle cx="622.5" cy="705.0" r="5.2"/><circle cx="625.1" cy="711.8" r="5.2"/><circle cx="625.0" cy="719.0" r="5.2"/><circle cx="627.3" cy="713.3" r="5.2"/><circle cx="629.0" cy="707.5" r="5.2"/><circle cx="631.5" cy="705.6" r="5.2"/><circle cx="632.0" cy="702.5" r="5.2"/><circle cx="634.8" cy="705.2" r="5.2"/><circle cx="635.0" cy="709.0" r="5.2"/><circle cx="637.2" cy="706.7" r="5.2"/><circle cx="639.0" cy="704.0" r="5.2"/><circle cx="642.5" cy="700.0" r="5.2"/><circle cx="645.5" cy="699.0" r="5.2"/><circle cx="646.9" cy="705.1" r="5.2"/><circle cx="649.0" cy="711.0" r="5.2"/><circle cx="652.5" cy="709.0" r="5.2"/><circle cx="653.1" cy="705.7" r="5.2"/><circle cx="656.0" cy="704.0" r="5.2"/><circle cx="660.0" cy="701.0" r="5.2"/><circle cx="665.0" cy="700.0" r="5.2"/><circle cx="670.0" cy="699.5" r="5.2"/><circle cx="674.0" cy="699.0" r="5.2"/><circle cx="679.5" cy="680.0" r="5.2"/><circle cx="684.5" cy="687.5" r="5.2"/><circle cx="690.0" cy="689.0" r="5.2"/><circle cx="696.0" cy="687.5" r="5.2"/><circle cx="702.0" cy="691.0" r="5.2"/><circle cx="707.0" cy="707.5" r="5.2"/><circle cx="712.0" cy="722.0" r="5.2"/><circle cx="717.5" cy="705.0" r="5.2"/><circle cx="723.0" cy="719.0" r="5.2"/><circle cx="729.0" cy="711.0" r="5.2"/><circle cx="734.5" cy="709.5" r="5.2"/><circle cx="739.5" cy="685.0" r="5.2"/><circle cx="745.0" cy="688.0" r="5.2"/><circle cx="750.5" cy="677.0" r="5.2"/><circle cx="756.0" cy="652.5" r="5.2"/><circle cx="761.0" cy="650.0" r="5.2"/><circle cx="767.0" cy="654.5" r="5.2"/><circle cx="772.5" cy="658.0" r="5.2"/><circle cx="778.0" cy="677.0" r="5.2"/><circle cx="782.5" cy="718.0" r="5.2"/><circle cx="789.0" cy="720.0" r="5.2"/><circle cx="794.0" cy="727.0" r="5.2"/><circle cx="800.0" cy="717.0" r="5.2"/><circle cx="805.0" cy="772.5" r="5.2"/><circle cx="810.5" cy="845.5" r="5.2"/><circle cx="816.0" cy="736.0" r="5.2"/><circle cx="821.5" cy="684.0" r="5.2"/><circle cx="827.0" cy="663.0" r="5.2"/><circle cx="833.0" cy="663.0" r="5.2"/><circle cx="838.0" cy="726.0" r="5.2"/><circle cx="843.0" cy="768.0" r="5.2"/></g></g>
<g id="mgs"><polyline points="212.5,379.0 215.0,392.5 220.8,429.0 224.5,433.0 228.0,435.5 231.0,441.0 234.5,446.0 238.0,451.0 241.0,454.0 250.0,452.0 252.5,433.0 258.0,414.0 264.0,368.0 273.0,342.0 281.0,337.0 286.0,366.0 292.0,371.0 297.0,389.0 302.5,360.0 308.0,352.5 318.0,366.0 323.0,386.0 328.0,392.5 330.5,376.0 338.0,382.5 340.5,391.0 343.0,404.0 348.0,406.0 353.0,392.5 358.0,290.5 362.5,297.5 368.0,315.0 370.5,422.0 389.5,417.5 398.0,422.5 406.8,442.0 419.5,464.0 431.0,471.0 436.0,470.0 453.0,462.5 465.0,456.0 474.0,462.0 492.5,456.0 499.0,454.5 505.0,459.0 506.0,469.0 509.0,476.0 515.0,475.0 519.0,464.0 522.5,455.0 526.0,446.0 529.0,440.0 534.0,425.0 537.0,421.0 539.0,449.0 541.5,461.0 548.0,460.0 554.0,458.5 560.0,460.0 565.5,469.0 569.0,466.0 575.0,458.5 582.5,458.5 588.5,455.5 594.5,460.0 601.5,463.0 610.5,454.0 615.5,458.5 621.5,461.5 627.5,464.5 633.5,466.0 641.0,466.0 647.0,458.5 653.0,467.5 659.0,466.0 676.5,461.0 687.5,466.0 698.5,464.0 709.5,460.0 720.5,460.0 731.0,466.0 736.5,461.5 741.5,464.5 752.5,464.0 759.0,473.5 764.5,476.5 775.0,469.5 780.5,444.5 786.0,393.0" fill="none" stroke="#235f60" stroke-width="2.5" stroke-linejoin="round"/>
<g fill="#235f60"><rect x="207.5" y="374.0" width="10" height="10"/><rect x="210.0" y="387.5" width="10" height="10"/><rect x="215.8" y="424.0" width="10" height="10"/><rect x="219.5" y="428.0" width="10" height="10"/><rect x="223.0" y="430.5" width="10" height="10"/><rect x="226.0" y="436.0" width="10" height="10"/><rect x="229.5" y="441.0" width="10" height="10"/><rect x="233.0" y="446.0" width="10" height="10"/><rect x="236.0" y="449.0" width="10" height="10"/><rect x="245.0" y="447.0" width="10" height="10"/><rect x="247.5" y="428.0" width="10" height="10"/><rect x="253.0" y="409.0" width="10" height="10"/><rect x="259.0" y="363.0" width="10" height="10"/><rect x="268.0" y="337.0" width="10" height="10"/><rect x="276.0" y="332.0" width="10" height="10"/><rect x="281.0" y="361.0" width="10" height="10"/><rect x="287.0" y="366.0" width="10" height="10"/><rect x="292.0" y="384.0" width="10" height="10"/><rect x="297.5" y="355.0" width="10" height="10"/><rect x="303.0" y="347.5" width="10" height="10"/><rect x="313.0" y="361.0" width="10" height="10"/><rect x="318.0" y="381.0" width="10" height="10"/><rect x="323.0" y="387.5" width="10" height="10"/><rect x="325.5" y="371.0" width="10" height="10"/><rect x="333.0" y="377.5" width="10" height="10"/><rect x="335.5" y="386.0" width="10" height="10"/><rect x="338.0" y="399.0" width="10" height="10"/><rect x="343.0" y="401.0" width="10" height="10"/><rect x="348.0" y="387.5" width="10" height="10"/><rect x="353.0" y="285.5" width="10" height="10"/><rect x="357.5" y="292.5" width="10" height="10"/><rect x="363.0" y="310.0" width="10" height="10"/><rect x="365.5" y="417.0" width="10" height="10"/><rect x="384.5" y="412.5" width="10" height="10"/><rect x="393.0" y="417.5" width="10" height="10"/><rect x="401.8" y="437.0" width="10" height="10"/><rect x="414.5" y="459.0" width="10" height="10"/><rect x="426.0" y="466.0" width="10" height="10"/><rect x="431.0" y="465.0" width="10" height="10"/><rect x="448.0" y="457.5" width="10" height="10"/><rect x="460.0" y="451.0" width="10" height="10"/><rect x="469.0" y="457.0" width="10" height="10"/><rect x="487.5" y="451.0" width="10" height="10"/><rect x="494.0" y="449.5" width="10" height="10"/><rect x="500.0" y="454.0" width="10" height="10"/><rect x="501.0" y="464.0" width="10" height="10"/><rect x="504.0" y="471.0" width="10" height="10"/><rect x="510.0" y="470.0" width="10" height="10"/><rect x="514.0" y="459.0" width="10" height="10"/><rect x="517.5" y="450.0" width="10" height="10"/><rect x="521.0" y="441.0" width="10" height="10"/><rect x="524.0" y="435.0" width="10" height="10"/><rect x="529.0" y="420.0" width="10" height="10"/><rect x="532.0" y="416.0" width="10" height="10"/><rect x="534.0" y="444.0" width="10" height="10"/><rect x="536.5" y="454.9" width="10" height="10"/><rect x="540.0" y="458.2" width="10" height="10"/><rect x="543.0" y="455.8" width="10" height="10"/><rect x="545.7" y="451.7" width="10" height="10"/><rect x="549.0" y="453.1" width="10" height="10"/><rect x="552.1" y="455.5" width="10" height="10"/><rect x="555.0" y="455.0" width="10" height="10"/><rect x="556.5" y="458.7" width="10" height="10"/><rect x="560.5" y="464.5" width="10" height="10"/><rect x="561.5" y="463.1" width="10" height="10"/><rect x="564.0" y="460.2" width="10" height="10"/><rect x="566.8" y="455.8" width="10" height="10"/><rect x="570.0" y="454.7" width="10" height="10"/><rect x="573.8" y="455.9" width="10" height="10"/><rect x="577.5" y="452.1" width="10" height="10"/><rect x="580.0" y="450.4" width="10" height="10"/><rect x="583.5" y="452.0" width="10" height="10"/><rect x="586.7" y="452.7" width="10" height="10"/><rect x="589.5" y="453.4" width="10" height="10"/><rect x="592.4" y="458.0" width="10" height="10"/><rect x="596.5" y="459.5" width="10" height="10"/><rect x="600.2" y="452.1" width="10" height="10"/><rect x="605.5" y="447.6" width="10" height="10"/><rect x="608.2" y="452.0" width="10" height="10"/><rect x="610.5" y="454.6" width="10" height="10"/><rect x="612.9" y="455.0" width="10" height="10"/><rect x="616.5" y="455.7" width="10" height="10"/><rect x="620.0" y="458.4" width="10" height="10"/><rect x="622.5" y="459.9" width="10" height="10"/><rect x="625.6" y="458.4" width="10" height="10"/><rect x="628.5" y="461.0" width="10" height="10"/><rect x="632.2" y="464.0" width="10" height="10"/><rect x="636.0" y="460.6" width="10" height="10"/><rect x="638.1" y="455.0" width="10" height="10"/><rect x="642.0" y="454.3" width="10" height="10"/><rect x="645.2" y="459.2" width="10" height="10"/><rect x="648.0" y="461.4" width="10" height="10"/><rect x="651.3" y="462.1" width="10" height="10"/><rect x="654.0" y="462.4" width="10" height="10"/><rect x="671.5" y="456.0" width="10" height="10"/><rect x="682.5" y="461.0" width="10" height="10"/><rect x="693.5" y="459.0" width="10" height="10"/><rect x="704.5" y="455.0" width="10" height="10"/><rect x="715.5" y="455.0" width="10" height="10"/><rect x="726.0" y="461.0" width="10" height="10"/><rect x="731.5" y="456.5" width="10" height="10"/><rect x="736.5" y="459.5" width="10" height="10"/><rect x="747.5" y="459.0" width="10" height="10"/><rect x="754.0" y="468.5" width="10" height="10"/><rect x="759.5" y="471.5" width="10" height="10"/><rect x="770.0" y="464.5" width="10" height="10"/><rect x="775.5" y="439.5" width="10" height="10"/><rect x="781.0" y="388.0" width="10" height="10"/></g></g>
<g id="oc"><polyline points="207.5,153.0 210.5,161.0 213.0,167.5 215.5,164.0 217.5,176.0 220.7,195.0 224.0,211.0 227.5,213.0 230.7,202.0 233.7,191.0 237.0,183.0 240.5,125.0 245.5,127.5 250.0,110.0 256.0,107.0 261.0,102.0 268.0,87.0 273.0,64.5 278.7,56.0 284.0,60.0 288.7,65.0 294.5,69.5 300.0,68.0 305.0,64.5 310.0,66.0 315.5,65.0 320.5,62.0 325.0,70.0 330.7,66.0 335.5,91.0 340.5,87.0 345.5,77.5 350.7,76.0 355.5,84.0 360.0,112.5 365.5,97.0 370.7,106.0 377.0,92.5 385.5,75.0 394.5,66.0 402.5,65.0 410.7,90.0 419.5,104.0 427.5,107.5 436.0,107.5 445.0,88.0 453.0,90.0 461.0,123.0 470.0,120.5 478.0,95.5 487.0,123.0 492.5,168.0 495.5,183.0 502.0,179.0 505.0,184.5 508.0,200.0 511.0,196.0 515.0,191.0 519.0,190.0 522.5,201.0 526.0,202.5 530.0,200.0 532.5,184.0 534.3,184.5 535.0,190.0 537.5,197.5 540.0,214.0 544.0,205.0 547.5,210.0 550.0,215.0 554.0,205.0 557.0,185.0 558.8,185.5 561.0,200.0 562.5,227.5 567.0,222.5 570.0,230.0 574.0,234.0 577.5,241.0 582.5,239.0 586.0,235.0 591.0,226.0 595.0,230.0 600.0,222.5 604.5,222.5 609.0,217.5 613.0,203.0 617.0,190.0 622.5,191.0 626.0,200.0 630.0,187.5 633.0,184.0 635.5,192.5 639.0,197.5 642.5,204.0 646.0,204.0 649.5,202.5 652.0,209.0 654.5,204.0 657.5,184.0 660.5,173.5 674.3,174.0 687.5,181.0 699.0,177.0 709.5,188.0 720.5,206.0 731.0,209.0 742.0,212.0 753.0,201.0 764.0,185.0 775.0,194.0 786.0,194.5 797.0,205.5 808.0,232.5 819.0,247.0 830.0,267.5 841.0,280.0" fill="none" stroke="#081b60" stroke-width="2.6" stroke-linejoin="round"/>
<g fill="none" stroke="#081b60" stroke-width="3.2"><rect x="204.1" y="149.6" width="6.8" height="6.8"/><rect x="207.1" y="157.6" width="6.8" height="6.8"/><rect x="209.6" y="164.1" width="6.8" height="6.8"/><rect x="212.1" y="160.6" width="6.8" height="6.8"/><rect x="214.1" y="172.6" width="6.8" height="6.8"/><rect x="217.3" y="191.6" width="6.8" height="6.8"/><rect x="220.6" y="207.6" width="6.8" height="6.8"/><rect x="224.1" y="209.6" width="6.8" height="6.8"/><rect x="227.3" y="198.6" width="6.8" height="6.8"/><rect x="230.3" y="187.6" width="6.8" height="6.8"/><rect x="233.6" y="179.6" width="6.8" height="6.8"/><rect x="237.1" y="121.6" width="6.8" height="6.8"/><rect x="242.1" y="124.1" width="6.8" height="6.8"/><rect x="246.6" y="106.6" width="6.8" height="6.8"/><rect x="252.6" y="103.6" width="6.8" height="6.8"/><rect x="257.6" y="98.6" width="6.8" height="6.8"/><rect x="264.6" y="83.6" width="6.8" height="6.8"/><rect x="269.6" y="61.1" width="6.8" height="6.8"/><rect x="275.3" y="52.6" width="6.8" height="6.8"/><rect x="280.6" y="56.6" width="6.8" height="6.8"/><rect x="285.3" y="61.6" width="6.8" height="6.8"/><rect x="291.1" y="66.1" width="6.8" height="6.8"/><rect x="296.6" y="64.6" width="6.8" height="6.8"/><rect x="301.6" y="61.1" width="6.8" height="6.8"/><rect x="306.6" y="62.6" width="6.8" height="6.8"/><rect x="312.1" y="61.6" width="6.8" height="6.8"/><rect x="317.1" y="58.6" width="6.8" height="6.8"/><rect x="321.6" y="66.6" width="6.8" height="6.8"/><rect x="327.3" y="62.6" width="6.8" height="6.8"/><rect x="332.1" y="87.6" width="6.8" height="6.8"/><rect x="337.1" y="83.6" width="6.8" height="6.8"/><rect x="342.1" y="74.1" width="6.8" height="6.8"/><rect x="347.3" y="72.6" width="6.8" height="6.8"/><rect x="352.1" y="80.6" width="6.8" height="6.8"/><rect x="356.6" y="109.1" width="6.8" height="6.8"/><rect x="362.1" y="93.6" width="6.8" height="6.8"/><rect x="367.3" y="102.6" width="6.8" height="6.8"/><rect x="373.6" y="89.1" width="6.8" height="6.8"/><rect x="382.1" y="71.6" width="6.8" height="6.8"/><rect x="391.1" y="62.6" width="6.8" height="6.8"/><rect x="399.1" y="61.6" width="6.8" height="6.8"/><rect x="407.3" y="86.6" width="6.8" height="6.8"/><rect x="416.1" y="100.6" width="6.8" height="6.8"/><rect x="424.1" y="104.1" width="6.8" height="6.8"/><rect x="432.6" y="104.1" width="6.8" height="6.8"/><rect x="441.6" y="84.6" width="6.8" height="6.8"/><rect x="449.6" y="86.6" width="6.8" height="6.8"/><rect x="457.6" y="119.6" width="6.8" height="6.8"/><rect x="466.6" y="117.1" width="6.8" height="6.8"/><rect x="474.6" y="92.1" width="6.8" height="6.8"/><rect x="483.6" y="119.6" width="6.8" height="6.8"/><rect x="489.1" y="164.6" width="6.8" height="6.8"/><rect x="492.1" y="179.6" width="6.8" height="6.8"/><rect x="495.8" y="178.3" width="6.8" height="6.8"/><rect x="498.6" y="175.6" width="6.8" height="6.8"/><rect x="501.6" y="181.1" width="6.8" height="6.8"/><rect x="504.6" y="196.6" width="6.8" height="6.8"/><rect x="507.6" y="192.6" width="6.8" height="6.8"/><rect x="511.6" y="187.6" width="6.8" height="6.8"/><rect x="515.6" y="186.6" width="6.8" height="6.8"/><rect x="516.6" y="192.3" width="6.8" height="6.8"/><rect x="519.1" y="197.6" width="6.8" height="6.8"/><rect x="522.6" y="199.1" width="6.8" height="6.8"/><rect x="526.6" y="196.6" width="6.8" height="6.8"/><rect x="529.1" y="180.6" width="6.8" height="6.8"/><rect x="530.9" y="181.1" width="6.8" height="6.8"/><rect x="531.6" y="186.6" width="6.8" height="6.8"/><rect x="532.1" y="190.6" width="6.8" height="6.8"/><rect x="534.1" y="194.1" width="6.8" height="6.8"/><rect x="536.6" y="210.6" width="6.8" height="6.8"/><rect x="538.5" y="206.0" width="6.8" height="6.8"/><rect x="540.6" y="201.6" width="6.8" height="6.8"/><rect x="544.1" y="206.6" width="6.8" height="6.8"/><rect x="546.6" y="211.6" width="6.8" height="6.8"/><rect x="548.5" y="206.6" width="6.8" height="6.8"/><rect x="550.6" y="201.6" width="6.8" height="6.8"/><rect x="553.6" y="181.6" width="6.8" height="6.8"/><rect x="555.4" y="182.1" width="6.8" height="6.8"/><rect x="556.6" y="189.3" width="6.8" height="6.8"/><rect x="557.6" y="196.6" width="6.8" height="6.8"/><rect x="559.1" y="224.1" width="6.8" height="6.8"/><rect x="563.6" y="219.1" width="6.8" height="6.8"/><rect x="565.2" y="222.8" width="6.8" height="6.8"/><rect x="566.6" y="226.6" width="6.8" height="6.8"/><rect x="570.6" y="230.6" width="6.8" height="6.8"/><rect x="574.1" y="237.6" width="6.8" height="6.8"/><rect x="579.1" y="235.6" width="6.8" height="6.8"/><rect x="582.6" y="231.6" width="6.8" height="6.8"/><rect x="587.6" y="222.6" width="6.8" height="6.8"/><rect x="591.6" y="226.6" width="6.8" height="6.8"/><rect x="596.6" y="219.1" width="6.8" height="6.8"/><rect x="601.1" y="219.1" width="6.8" height="6.8"/><rect x="605.6" y="214.1" width="6.8" height="6.8"/><rect x="609.6" y="199.6" width="6.8" height="6.8"/><rect x="613.6" y="186.6" width="6.8" height="6.8"/><rect x="619.1" y="187.6" width="6.8" height="6.8"/><rect x="622.6" y="196.6" width="6.8" height="6.8"/><rect x="626.6" y="184.1" width="6.8" height="6.8"/><rect x="629.6" y="180.6" width="6.8" height="6.8"/><rect x="632.1" y="189.1" width="6.8" height="6.8"/><rect x="635.6" y="194.1" width="6.8" height="6.8"/><rect x="639.1" y="200.6" width="6.8" height="6.8"/><rect x="642.6" y="200.6" width="6.8" height="6.8"/><rect x="646.1" y="199.1" width="6.8" height="6.8"/><rect x="648.6" y="205.6" width="6.8" height="6.8"/><rect x="651.1" y="200.6" width="6.8" height="6.8"/><rect x="654.1" y="180.6" width="6.8" height="6.8"/><rect x="657.1" y="170.1" width="6.8" height="6.8"/><rect x="670.9" y="170.6" width="6.8" height="6.8"/><rect x="684.1" y="177.6" width="6.8" height="6.8"/><rect x="695.6" y="173.6" width="6.8" height="6.8"/><rect x="706.1" y="184.6" width="6.8" height="6.8"/><rect x="717.1" y="202.6" width="6.8" height="6.8"/><rect x="727.6" y="205.6" width="6.8" height="6.8"/><rect x="738.6" y="208.6" width="6.8" height="6.8"/><rect x="749.6" y="197.6" width="6.8" height="6.8"/><rect x="760.6" y="181.6" width="6.8" height="6.8"/><rect x="771.6" y="190.6" width="6.8" height="6.8"/><rect x="782.6" y="191.1" width="6.8" height="6.8"/><rect x="793.6" y="202.1" width="6.8" height="6.8"/><rect x="804.6" y="229.1" width="6.8" height="6.8"/><rect x="815.6" y="243.6" width="6.8" height="6.8"/><rect x="826.6" y="264.1" width="6.8" height="6.8"/><rect x="837.6" y="276.6" width="6.8" height="6.8"/></g></g>
<g id="ausmi" stroke="#f09a66" fill="none">
<path d="M209.5 1218.9V1243.1M205.7 1218.9h7.6M205.7 1243.1h7.6M212.0 1222.1V1246.6M208.2 1222.1h7.6M208.2 1246.6h7.6M214.5 1227.8V1252.5M210.7 1227.8h7.6M210.7 1252.5h7.6M217.0 1234.8V1259.9M213.2 1234.8h7.6M213.2 1259.9h7.6M219.5 1243.1V1268.5M215.7 1243.1h7.6M215.7 1268.5h7.6M222.0 1252.2V1277.8M218.2 1252.2h7.6M218.2 1277.8h7.6M224.5 1261.7V1287.6M220.7 1261.7h7.6M220.7 1287.6h7.6M227.0 1271.9V1298.8M223.2 1271.9h7.6M223.2 1298.8h7.6M229.5 1279.2V1307.2M225.7 1279.2h7.6M225.7 1307.2h7.6M232.0 1284.1V1313.2M228.2 1284.1h7.6M228.2 1313.2h7.6M234.5 1283.2V1313.2M230.7 1283.2h7.6M230.7 1313.2h7.6M237.0 1262.5V1292.5M233.2 1262.5h7.6M233.2 1292.5h7.6M239.5 1233.5V1263.5M235.7 1233.5h7.6M235.7 1263.5h7.6M242.0 1228.2V1258.2M238.2 1228.2h7.6M238.2 1258.2h7.6M244.5 1226.2V1256.2M240.7 1226.2h7.6M240.7 1256.2h7.6M247.0 1224.4V1254.4M243.2 1224.4h7.6M243.2 1254.4h7.6M249.5 1222.8V1252.8M245.7 1222.8h7.6M245.7 1252.8h7.6M252.0 1221.3V1251.3M248.2 1221.3h7.6M248.2 1251.3h7.6M254.5 1218.8V1248.8M250.7 1218.8h7.6M250.7 1248.8h7.6M257.0 1216.2V1246.2M253.2 1216.2h7.6M253.2 1246.2h7.6M259.5 1213.2V1243.2M255.7 1213.2h7.6M255.7 1243.2h7.6M262.0 1210.7V1238.3M258.2 1210.7h7.6M258.2 1238.3h7.6M264.5 1208.5V1233.0M260.7 1208.5h7.6M260.7 1233.0h7.6M267.0 1205.2V1226.8M263.2 1205.2h7.6M263.2 1226.8h7.6M269.5 1201.7V1220.3M265.7 1201.7h7.6M265.7 1220.3h7.6M272.0 1196.7V1213.3M268.2 1196.7h7.6M268.2 1213.3h7.6M274.5 1191.2V1206.2M270.7 1191.2h7.6M270.7 1206.2h7.6M277.0 1188.1V1201.4M273.2 1188.1h7.6M273.2 1201.4h7.6M279.5 1186.4V1198.4M275.7 1186.4h7.6M275.7 1198.4h7.6M282.0 1188.3V1200.5M278.2 1188.3h7.6M278.2 1200.5h7.6M284.5 1190.2V1202.8M280.7 1190.2h7.6M280.7 1202.8h7.6M287.0 1192.6V1205.4M283.2 1192.6h7.6M283.2 1205.4h7.6M289.5 1195.0V1208.0M285.7 1195.0h7.6M285.7 1208.0h7.6M292.0 1197.6V1210.9M288.2 1197.6h7.6M288.2 1210.9h7.6M294.5 1200.2V1213.7M290.7 1200.2h7.6M290.7 1213.7h7.6M297.0 1201.4V1215.2M293.2 1201.4h7.6M293.2 1215.2h7.6M299.5 1202.3V1216.3M295.7 1202.3h7.6M295.7 1216.3h7.6M302.0 1201.1V1214.9M298.2 1201.1h7.6M298.2 1214.9h7.6M304.5 1199.3V1212.9M300.7 1199.3h7.6M300.7 1212.9h7.6M307.0 1197.7V1211.0M303.2 1197.7h7.6M303.2 1211.0h7.6M309.5 1196.3V1209.4M305.7 1196.3h7.6M305.7 1209.4h7.6M312.0 1194.9V1207.7M308.2 1194.9h7.6M308.2 1207.7h7.6M314.5 1194.5V1207.0M310.7 1194.5h7.6M310.7 1207.0h7.6M317.0 1194.2V1206.6M313.2 1194.2h7.6M313.2 1206.6h7.6M319.5 1194.0V1206.1M315.7 1194.0h7.6M315.7 1206.1h7.6M322.0 1195.3V1207.3M318.2 1195.3h7.6M318.2 1207.3h7.6M324.5 1197.0V1209.0M320.7 1197.0h7.6M320.7 1209.0h7.6M327.0 1197.6V1209.6M323.2 1197.6h7.6M323.2 1209.6h7.6M329.5 1196.7V1208.7M325.7 1196.7h7.6M325.7 1208.7h7.6M332.0 1200.5V1212.5M328.2 1200.5h7.6M328.2 1212.5h7.6M334.5 1205.5V1217.5M330.7 1205.5h7.6M330.7 1217.5h7.6M337.0 1208.7V1220.7M333.2 1208.7h7.6M333.2 1220.7h7.6M339.5 1211.4V1223.4M335.7 1211.4h7.6M335.7 1223.4h7.6M342.0 1212.0V1224.0M338.2 1212.0h7.6M338.2 1224.0h7.6M344.5 1209.5V1221.5M340.7 1209.5h7.6M340.7 1221.5h7.6M347.0 1207.0V1219.0M343.2 1207.0h7.6M343.2 1219.0h7.6M349.5 1206.5V1218.5M345.7 1206.5h7.6M345.7 1218.5h7.6M352.0 1206.5V1218.5M348.2 1206.5h7.6M348.2 1218.5h7.6M354.5 1207.3V1219.3M350.7 1207.3h7.6M350.7 1219.3h7.6M357.0 1211.4V1223.4M353.2 1211.4h7.6M353.2 1223.4h7.6M359.5 1215.5V1227.5M355.7 1215.5h7.6M355.7 1227.5h7.6M362.0 1216.6V1228.9M358.2 1216.6h7.6M358.2 1228.9h7.6M364.5 1213.2V1226.1M360.7 1213.2h7.6M360.7 1226.1h7.6M367.0 1209.7V1223.3M363.2 1209.7h7.6M363.2 1223.3h7.6M369.5 1206.2V1220.4M365.7 1206.2h7.6M365.7 1220.4h7.6M372.0 1202.2V1217.2M368.2 1202.2h7.6M368.2 1217.2h7.6M374.5 1198.3V1213.9M370.7 1198.3h7.6M370.7 1213.9h7.6M377.0 1194.4V1211.3M373.2 1194.4h7.6M373.2 1211.3h7.6M379.5 1190.6V1209.6M375.7 1190.6h7.6M375.7 1209.6h7.6M382.0 1186.7V1207.8M378.2 1186.7h7.6M378.2 1207.8h7.6M384.5 1182.7V1206.0M380.7 1182.7h7.6M380.7 1206.0h7.6M387.0 1178.5V1204.0M383.2 1178.5h7.6M383.2 1204.0h7.6M389.5 1174.3V1201.9M385.7 1174.3h7.6M385.7 1201.9h7.6M392.0 1171.4V1201.0M388.2 1171.4h7.6M388.2 1201.0h7.6M394.5 1168.7V1200.3M390.7 1168.7h7.6M390.7 1200.3h7.6M397.0 1166.0V1199.6M393.2 1166.0h7.6M393.2 1199.6h7.6M399.5 1166.9V1202.1M395.7 1166.9h7.6M395.7 1202.1h7.6M402.0 1168.6V1205.4M398.2 1168.6h7.6M398.2 1205.4h7.6M404.5 1179.7V1218.2M400.7 1179.7h7.6M400.7 1218.2h7.6M407.0 1190.8V1230.9M403.2 1190.8h7.6M403.2 1230.9h7.6M409.5 1198.5V1240.2M405.7 1198.5h7.6M405.7 1240.2h7.6M412.0 1202.4V1242.8M408.2 1202.4h7.6M408.2 1242.8h7.6M414.5 1205.4V1243.8M410.7 1205.4h7.6M410.7 1243.8h7.6M417.0 1207.2V1243.6M413.2 1207.2h7.6M413.2 1243.6h7.6M419.5 1208.7V1243.1M415.7 1208.7h7.6M415.7 1243.1h7.6M422.0 1214.5V1246.5M418.2 1214.5h7.6M418.2 1246.5h7.6M424.5 1221.1V1250.6M420.7 1221.1h7.6M420.7 1250.6h7.6M427.0 1226.6V1253.6M423.2 1226.6h7.6M423.2 1253.6h7.6M429.5 1233.9V1258.4M425.7 1233.9h7.6M425.7 1258.4h7.6M432.0 1242.0V1264.0M428.2 1242.0h7.6M428.2 1264.0h7.6M434.5 1247.2V1267.1M430.7 1247.2h7.6M430.7 1267.1h7.6M437.0 1238.1V1257.6M433.2 1238.1h7.6M433.2 1257.6h7.6M439.5 1231.6V1250.7M435.7 1231.6h7.6M435.7 1250.7h7.6M442.0 1227.9V1246.5M438.2 1227.9h7.6M438.2 1246.5h7.6M444.5 1227.3V1245.6M440.7 1227.3h7.6M440.7 1245.6h7.6M447.0 1227.3V1245.6M443.2 1227.3h7.6M443.2 1245.6h7.6M449.5 1228.1V1247.1M445.7 1228.1h7.6M445.7 1247.1h7.6M452.0 1228.9V1248.7M448.2 1228.9h7.6M448.2 1248.7h7.6M454.5 1233.1V1253.7M450.7 1233.1h7.6M450.7 1253.7h7.6M457.0 1238.2V1259.6M453.2 1238.2h7.6M453.2 1259.6h7.6M459.5 1246.1V1268.2M455.7 1246.1h7.6M455.7 1268.2h7.6M462.0 1253.4V1276.2M458.2 1253.4h7.6M458.2 1276.2h7.6M464.5 1258.8V1282.3M460.7 1258.8h7.6M460.7 1282.3h7.6M467.0 1260.5V1284.9M463.2 1260.5h7.6M463.2 1284.9h7.6M469.5 1256.8V1282.1M465.7 1256.8h7.6M465.7 1282.1h7.6M472.0 1253.4V1279.6M468.2 1253.4h7.6M468.2 1279.6h7.6M474.5 1250.4V1277.6M470.7 1250.4h7.6M470.7 1277.6h7.6M477.0 1247.9V1276.0M473.2 1247.9h7.6M473.2 1276.0h7.6M479.5 1246.1V1275.1M475.7 1246.1h7.6M475.7 1275.1h7.6M482.0 1244.3V1274.3M478.2 1244.3h7.6M478.2 1274.3h7.6M484.5 1252.2V1278.4M480.7 1252.2h7.6M480.7 1278.4h7.6M487.0 1262.8V1285.2M483.2 1262.8h7.6M483.2 1285.2h7.6M489.5 1274.8V1293.2M485.7 1274.8h7.6M485.7 1293.2h7.6M492.0 1283.9V1298.5M488.2 1283.9h7.6M488.2 1298.5h7.6M494.5 1292.3V1303.1M490.7 1292.3h7.6M490.7 1303.1h7.6M497.0 1293.4V1303.1M493.2 1293.4h7.6M493.2 1303.1h7.6M499.5 1292.1V1301.5M495.7 1292.1h7.6M495.7 1301.5h7.6M502.0 1288.7V1297.7M498.2 1288.7h7.6M498.2 1297.7h7.6M504.5 1293.5V1302.3M500.7 1293.5h7.6M500.7 1302.3h7.6M507.0 1300.5V1308.9M503.2 1300.5h7.6M503.2 1308.9h7.6M509.5 1301.2V1309.2M505.7 1301.2h7.6M505.7 1309.2h7.6M512.0 1299.8V1308.6M508.2 1299.8h7.6M508.2 1308.6h7.6M514.5 1297.5V1307.1M510.7 1297.5h7.6M510.7 1307.1h7.6M517.0 1298.6V1309.1M513.2 1298.6h7.6M513.2 1309.1h7.6M519.5 1305.4V1316.7M515.7 1305.4h7.6M515.7 1316.7h7.6M522.0 1312.6V1324.9M518.2 1312.6h7.6M518.2 1324.9h7.6M524.5 1318.8V1331.9M520.7 1318.8h7.6M520.7 1331.9h7.6M527.0 1320.1V1334.1M523.2 1320.1h7.6M523.2 1334.1h7.6M529.5 1306.0V1320.4M525.7 1306.0h7.6M525.7 1320.4h7.6M532.0 1293.4V1308.3M528.2 1293.4h7.6M528.2 1308.3h7.6M534.5 1289.1V1304.5M530.7 1289.1h7.6M530.7 1304.5h7.6M537.0 1292.6V1308.4M533.2 1292.6h7.6M533.2 1308.4h7.6M539.5 1298.3V1314.6M535.7 1298.3h7.6M535.7 1314.6h7.6M542.0 1305.2V1321.9M538.2 1305.2h7.6M538.2 1321.9h7.6M544.5 1317.8V1335.0M540.7 1317.8h7.6M540.7 1335.0h7.6M547.0 1328.8V1346.5M543.2 1328.8h7.6M543.2 1346.5h7.6M549.5 1331.7V1349.3M545.7 1331.7h7.6M545.7 1349.3h7.6M552.0 1317.9V1334.1M548.2 1317.9h7.6M548.2 1334.1h7.6M554.5 1301.2V1315.8M550.7 1301.2h7.6M550.7 1315.8h7.6M557.0 1293.4V1306.6M553.2 1293.4h7.6M553.2 1306.6h7.6M559.5 1293.9V1306.1M555.7 1293.9h7.6M555.7 1306.1h7.6M562.0 1312.6V1326.2M558.2 1312.6h7.6M558.2 1326.2h7.6M564.5 1322.8V1337.8M560.7 1322.8h7.6M560.7 1337.8h7.6M567.0 1329.3V1345.7M563.2 1329.3h7.6M563.2 1345.7h7.6M569.5 1333.6V1351.4M565.7 1333.6h7.6M565.7 1351.4h7.6M572.0 1332.3V1352.7M568.2 1332.3h7.6M568.2 1352.7h7.6M574.5 1331.7V1355.0M570.7 1331.7h7.6M570.7 1355.0h7.6M577.0 1334.7V1360.8M573.2 1334.7h7.6M573.2 1360.8h7.6M579.5 1342.6V1371.7M575.7 1342.6h7.6M575.7 1371.7h7.6M582.0 1345.8V1377.8M578.2 1345.8h7.6M578.2 1377.8h7.6M584.5 1343.6V1372.8M580.7 1343.6h7.6M580.7 1372.8h7.6M587.0 1339.3V1365.7M583.2 1339.3h7.6M583.2 1365.7h7.6M589.5 1334.4V1358.1M585.7 1334.4h7.6M585.7 1358.1h7.6M592.0 1331.6V1352.4M588.2 1331.6h7.6M588.2 1352.4h7.6M594.5 1329.2V1347.3M590.7 1329.2h7.6M590.7 1347.3h7.6M597.0 1325.8V1341.2M593.2 1325.8h7.6M593.2 1341.2h7.6M599.5 1322.2V1334.8M595.7 1322.2h7.6M595.7 1334.8h7.6M602.0 1318.8V1330.2M598.2 1318.8h7.6M598.2 1330.2h7.6M604.5 1315.4V1326.1M600.7 1315.4h7.6M600.7 1326.1h7.6M607.0 1313.5V1323.4M603.2 1313.5h7.6M603.2 1323.4h7.6M609.5 1311.8V1321.0M605.7 1311.8h7.6M605.7 1321.0h7.6M612.0 1309.8V1318.2M608.2 1309.8h7.6M608.2 1318.2h7.6M614.5 1307.7V1315.3M610.7 1307.7h7.6M610.7 1315.3h7.6M617.0 1307.1V1314.0M613.2 1307.1h7.6M613.2 1314.0h7.6M619.5 1307.0V1313.2M615.7 1307.0h7.6M615.7 1313.2h7.6M622.0 1309.6V1316.4M618.2 1309.6h7.6M618.2 1316.4h7.6M624.5 1312.8V1320.7M620.7 1312.8h7.6M620.7 1320.7h7.6M627.0 1311.7V1320.5M623.2 1311.7h7.6M623.2 1320.5h7.6M629.5 1309.4V1319.2M625.7 1309.4h7.6M625.7 1319.2h7.6M632.0 1311.6V1327.4M628.2 1311.6h7.6M628.2 1327.4h7.6M634.5 1315.9V1338.7M630.7 1315.9h7.6M630.7 1338.7h7.6M637.0 1323.7V1353.7M633.2 1323.7h7.6M633.2 1353.7h7.6M639.5 1316.3V1340.1M635.7 1316.3h7.6M635.7 1340.1h7.6M642.0 1310.8V1328.2M638.2 1310.8h7.6M638.2 1328.2h7.6M644.5 1308.7V1319.9M640.7 1308.7h7.6M640.7 1319.9h7.6M647.0 1310.8V1320.6M643.2 1310.8h7.6M643.2 1320.6h7.6M649.5 1314.2V1323.6M645.7 1314.2h7.6M645.7 1323.6h7.6M652.0 1314.3V1323.4M648.2 1314.3h7.6M648.2 1323.4h7.6M654.5 1309.2V1317.9M650.7 1309.2h7.6M650.7 1317.9h7.6M657.0 1303.3V1311.7M653.2 1303.3h7.6M653.2 1311.7h7.6M659.5 1297.2V1305.3M655.7 1297.2h7.6M655.7 1305.3h7.6M662.0 1294.7V1302.7M658.2 1294.7h7.6M658.2 1302.7h7.6M664.5 1293.0V1301.0M660.7 1293.0h7.6M660.7 1301.0h7.6M667.0 1291.5V1299.5M663.2 1291.5h7.6M663.2 1299.5h7.6M669.5 1290.1V1298.1M665.7 1290.1h7.6M665.7 1298.1h7.6M672.0 1288.8V1296.8M668.2 1288.8h7.6M668.2 1296.8h7.6M674.5 1281.1V1295.3M670.7 1281.1h7.6M670.7 1295.3h7.6M677.0 1272.0V1292.5M673.2 1272.0h7.6M673.2 1292.5h7.6M679.5 1262.0V1288.8M675.7 1262.0h7.6M675.7 1288.8h7.6M682.0 1260.7V1288.7M678.2 1260.7h7.6M678.2 1288.7h7.6M684.5 1261.5V1289.5M680.7 1261.5h7.6M680.7 1289.5h7.6M687.0 1262.0V1290.0M683.2 1262.0h7.6M683.2 1290.0h7.6M689.5 1262.0V1290.0M685.7 1262.0h7.6M685.7 1290.0h7.6M692.0 1262.0V1290.0M688.2 1262.0h7.6M688.2 1290.0h7.6M694.5 1263.2V1288.2M690.7 1263.2h7.6M690.7 1288.2h7.6M697.0 1264.3V1286.3M693.2 1264.3h7.6M693.2 1286.3h7.6M699.5 1266.6V1285.6M695.7 1266.6h7.6M695.7 1285.6h7.6M702.0 1273.4V1289.4M698.2 1273.4h7.6M698.2 1289.4h7.6M704.5 1283.2V1298.9M700.7 1283.2h7.6M700.7 1298.9h7.6M707.0 1292.8V1308.2M703.2 1292.8h7.6M703.2 1308.2h7.6M709.5 1300.4V1315.6M705.7 1300.4h7.6M705.7 1315.6h7.6M712.0 1306.0V1321.0M708.2 1306.0h7.6M708.2 1321.0h7.6M714.5 1308.6V1323.4M710.7 1308.6h7.6M710.7 1323.4h7.6M717.0 1311.0V1325.5M713.2 1311.0h7.6M713.2 1325.5h7.6M719.5 1313.1V1327.3M715.7 1313.1h7.6M715.7 1327.3h7.6M722.0 1315.1V1329.1M718.2 1315.1h7.6M718.2 1329.1h7.6M724.5 1311.4V1326.8M720.7 1311.4h7.6M720.7 1326.8h7.6M727.0 1306.4V1323.3M723.2 1306.4h7.6M723.2 1323.3h7.6M729.5 1299.6V1318.0M725.7 1299.6h7.6M725.7 1318.0h7.6M732.0 1292.4V1312.2M728.2 1292.4h7.6M728.2 1312.2h7.6M734.5 1285.7V1307.1M730.7 1285.7h7.6M730.7 1307.1h7.6M737.0 1279.2V1302.0M733.2 1279.2h7.6M733.2 1302.0h7.6M739.5 1275.4V1299.2M735.7 1275.4h7.6M735.7 1299.2h7.6M742.0 1282.6V1305.0M738.2 1282.6h7.6M738.2 1305.0h7.6M744.5 1287.5V1308.5M740.7 1287.5h7.6M740.7 1308.5h7.6M747.0 1283.4V1303.1M743.2 1283.4h7.6M743.2 1303.1h7.6M749.5 1279.3V1297.6M745.7 1279.3h7.6M745.7 1297.6h7.6M752.0 1271.2V1291.8M748.2 1271.2h7.6M748.2 1291.8h7.6M754.5 1262.1V1285.9M750.7 1262.1h7.6M750.7 1285.9h7.6M757.0 1256.5V1283.5M753.2 1256.5h7.6M753.2 1283.5h7.6M759.5 1251.8V1281.9M755.7 1251.8h7.6M755.7 1281.9h7.6M762.0 1249.6V1281.2M758.2 1249.6h7.6M758.2 1281.2h7.6M764.5 1251.1V1281.6M760.7 1251.1h7.6M760.7 1281.6h7.6M767.0 1252.6V1282.0M763.2 1252.6h7.6M763.2 1282.0h7.6M769.5 1256.0V1284.2M765.7 1256.0h7.6M765.7 1284.2h7.6M772.0 1260.9V1285.8M768.2 1260.9h7.6M768.2 1285.8h7.6M774.5 1267.3V1288.3M770.7 1267.3h7.6M770.7 1288.3h7.6M777.0 1278.2V1295.4M773.2 1278.2h7.6M773.2 1295.4h7.6M779.5 1289.0V1303.6M775.7 1289.0h7.6M775.7 1303.6h7.6M782.0 1299.1V1316.3M778.2 1299.1h7.6M778.2 1316.3h7.6M784.5 1304.4V1324.2M780.7 1304.4h7.6M780.7 1324.2h7.6M787.0 1307.9V1330.4M783.2 1307.9h7.6M783.2 1330.4h7.6M789.5 1310.6V1335.8M785.7 1310.6h7.6M785.7 1335.8h7.6M792.0 1311.8V1339.7M788.2 1311.8h7.6M788.2 1339.7h7.6M794.5 1312.3V1341.1M790.7 1312.3h7.6M790.7 1341.1h7.6M797.0 1311.4V1333.9M793.2 1311.4h7.6M793.2 1333.9h7.6M799.5 1314.4V1341.6M795.7 1314.4h7.6M795.7 1341.6h7.6M802.0 1322.8V1362.2M798.2 1322.8h7.6M798.2 1362.2h7.6M804.5 1339.2V1390.8M800.7 1339.2h7.6M800.7 1390.8h7.6M807.0 1353.3V1412.3M803.2 1353.3h7.6M803.2 1412.3h7.6M809.5 1356.8V1418.2M805.7 1356.8h7.6M805.7 1418.2h7.6M812.0 1335.9V1384.9M808.2 1335.9h7.6M808.2 1384.9h7.6M814.5 1296.2V1338.8M810.7 1296.2h7.6M810.7 1338.8h7.6M817.0 1274.0V1314.0M813.2 1274.0h7.6M813.2 1314.0h7.6M819.5 1260.8V1304.7M815.7 1260.8h7.6M815.7 1304.7h7.6M822.0 1249.9V1297.7M818.2 1249.9h7.6M818.2 1297.7h7.6M824.5 1242.5V1294.1M820.7 1242.5h7.6M820.7 1294.1h7.6M827.0 1237.1V1291.9M823.2 1237.1h7.6M823.2 1291.9h7.6M829.5 1234.8V1291.7M825.7 1234.8h7.6M825.7 1291.7h7.6M832.0 1239.0V1294.7M828.2 1239.0h7.6M828.2 1294.7h7.6M834.5 1252.8V1302.8M830.7 1252.8h7.6M830.7 1302.8h7.6M837.0 1269.5V1313.8M833.2 1269.5h7.6M833.2 1313.8h7.6M839.5 1277.0V1328.0M835.7 1277.0h7.6M835.7 1328.0h7.6M841.2 1277.5V1337.5M837.4 1277.5h7.6M837.4 1337.5h7.6" stroke-width="1.35"/>
<polyline points="208.8,1230.0 212.5,1235.0 216.0,1244.0 220.0,1257.5 224.0,1272.5 227.5,1287.5 231.0,1297.5 234.0,1301.0 235.5,1292.5 237.5,1272.5 239.0,1250.0 241.0,1244.0 246.0,1240.0 252.5,1236.0 259.0,1229.0 265.0,1220.0 270.0,1210.0 275.0,1197.5 279.0,1192.0 284.0,1196.0 289.0,1201.0 295.0,1207.5 300.0,1209.5 306.0,1205.0 312.5,1201.0 320.0,1200.0 326.0,1204.0 330.0,1202.5 335.0,1212.5 341.0,1219.0 347.5,1212.5 354.0,1212.5 361.0,1224.0 369.0,1214.0 376.0,1204.0 384.0,1195.0 390.0,1187.5 397.5,1182.5 402.5,1187.5 406.0,1207.5 410.0,1221.0 415.0,1225.0 420.0,1226.0 424.0,1235.0 427.5,1241.0 431.0,1250.0 434.0,1259.0 437.5,1246.0 441.0,1237.5 446.0,1236.0 452.5,1239.0 457.5,1250.0 461.0,1262.5 466.0,1274.0 471.0,1267.5 476.0,1262.5 482.5,1259.0 486.0,1270.0 490.0,1286.0 495.0,1299.0 499.0,1297.5 502.5,1292.5 507.5,1306.0 512.5,1304.0 516.0,1301.0 520.0,1312.5 524.0,1325.0 527.5,1327.5 531.0,1302.5 535.0,1296.0 539.0,1305.0 542.5,1315.0 546.0,1335.0 549.0,1343.0 551.0,1333.0 555.0,1305.0 559.0,1295.0 561.0,1315.0 565.0,1332.5 569.0,1342.5 572.5,1342.5 576.0,1344.0 580.0,1359.0 582.5,1362.5 586.0,1355.0 590.0,1345.0 595.0,1337.5 600.0,1327.5 605.0,1320.0 610.0,1316.0 615.0,1311.0 620.0,1310.0 625.0,1317.5 630.0,1314.0 634.0,1325.0 637.5,1341.0 640.0,1325.0 644.0,1314.0 647.5,1316.0 651.0,1321.0 655.0,1312.5 660.0,1300.0 666.0,1296.0 672.5,1292.5 676.0,1285.0 680.0,1274.0 686.0,1276.0 692.5,1276.0 699.0,1275.0 702.5,1282.5 706.0,1297.5 711.0,1312.5 716.0,1317.5 722.5,1322.5 727.5,1314.0 732.5,1301.0 739.0,1286.0 744.0,1299.0 750.0,1287.5 755.0,1272.5 761.0,1265.0 767.5,1267.5 774.0,1276.0 779.0,1294.0 782.5,1310.0 786.0,1317.5 790.0,1324.0 794.0,1327.5 798.0,1321.0 801.0,1335.0 804.0,1357.5 805.5,1380.0 809.5,1387.5 812.5,1355.0 814.5,1317.5 817.0,1294.0 821.0,1276.0 826.0,1265.0 831.0,1262.5 835.0,1280.0 838.0,1297.5 841.0,1307.5" stroke-width="2.7" stroke-linejoin="round"/>
</g>
</svg>
</body></html>
